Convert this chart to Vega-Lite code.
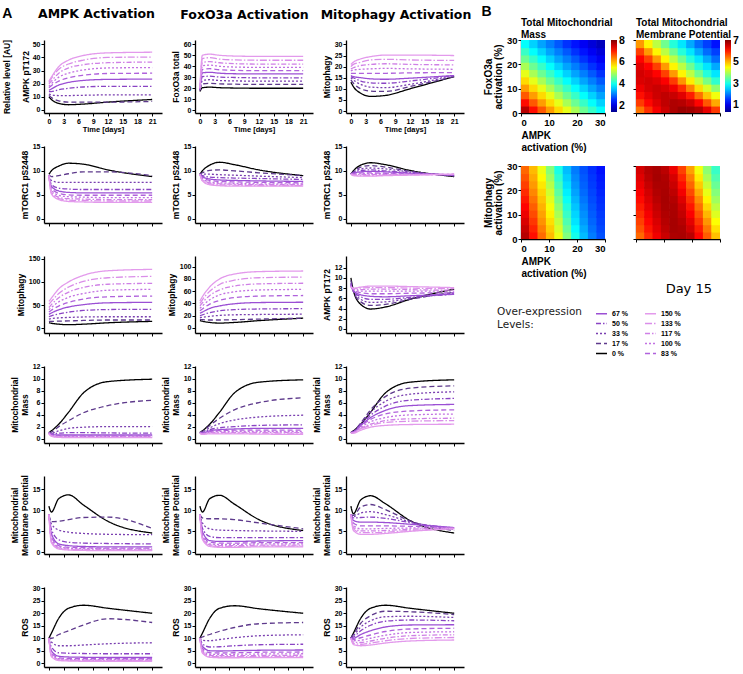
{
"$schema":"https://vega.github.io/schema/vega-lite/v6.json",
"background":"white",
"padding":{"left":2,"top":4,"right":0,"bottom":0},
"title":{"text":"A","anchor":"start","frame":"bounds","font":"Liberation Sans","fontSize":14,"fontWeight":"bold","offset":-16,"color":"#000"},
"config":{"view":{"stroke":null},"font":"Liberation Sans",
"axis":{"domainColor":"#000","domainWidth":1.3,"tickColor":"#000","tickWidth":1,"tickSize":3,"labelFont":"Liberation Sans","labelFontWeight":"bold","labelFontSize":7,"labelColor":"#000","labelPadding":1,"titleFont":"Liberation Sans","titleFontWeight":"bold","titleFontSize":8.5,"titleColor":"#000","titlePadding":3,"grid":false,"titleLineHeight":10},
"title":{"color":"#000"}},
"datasets":{
"a1":[{"lv":0,"t":0,"v":10},{"lv":0,"t":0.5,"v":8},{"lv":0,"t":2,"v":5},{"lv":0,"t":4,"v":4},{"lv":0,"t":7,"v":4.5},{"lv":0,"t":12,"v":6},{"lv":0,"t":21,"v":8},
{"lv":17,"t":0,"v":11},{"lv":17,"t":0.5,"v":9.5},{"lv":17,"t":2,"v":7},{"lv":17,"t":4,"v":6},{"lv":17,"t":7,"v":6},{"lv":17,"t":12,"v":6},{"lv":17,"t":21,"v":6.5},
{"lv":33,"t":0,"v":12},{"lv":33,"t":0.5,"v":11.5},{"lv":33,"t":2,"v":11},{"lv":33,"t":4,"v":11},{"lv":33,"t":7,"v":11.2},{"lv":33,"t":12,"v":11.5},{"lv":33,"t":21,"v":11.5},
{"lv":50,"t":0,"v":14},{"lv":50,"t":0.5,"v":14},{"lv":50,"t":2,"v":15.5},{"lv":50,"t":4,"v":16.5},{"lv":50,"t":7,"v":17.5},{"lv":50,"t":12,"v":18},{"lv":50,"t":21,"v":18},
{"lv":67,"t":0,"v":15},{"lv":67,"t":0.5,"v":16},{"lv":67,"t":2,"v":19},{"lv":67,"t":4,"v":21},{"lv":67,"t":7,"v":22.5},{"lv":67,"t":12,"v":23.3},{"lv":67,"t":21,"v":23.5},
{"lv":83,"t":0,"v":17},{"lv":83,"t":0.5,"v":18.5},{"lv":83,"t":2,"v":22},{"lv":83,"t":4,"v":24.5},{"lv":83,"t":7,"v":26.5},{"lv":83,"t":12,"v":27.8},{"lv":83,"t":21,"v":28},
{"lv":100,"t":0,"v":18},{"lv":100,"t":0.5,"v":20},{"lv":100,"t":2,"v":25},{"lv":100,"t":4,"v":28},{"lv":100,"t":7,"v":30.5},{"lv":100,"t":12,"v":32},{"lv":100,"t":21,"v":32.3},
{"lv":117,"t":0,"v":20},{"lv":117,"t":0.5,"v":22},{"lv":117,"t":2,"v":28},{"lv":117,"t":4,"v":32},{"lv":117,"t":7,"v":34.5},{"lv":117,"t":12,"v":36},{"lv":117,"t":21,"v":36.5},
{"lv":133,"t":0,"v":21},{"lv":133,"t":0.5,"v":24},{"lv":133,"t":2,"v":31},{"lv":133,"t":4,"v":35},{"lv":133,"t":7,"v":38},{"lv":133,"t":12,"v":40},{"lv":133,"t":21,"v":40.3},
{"lv":150,"t":0,"v":22},{"lv":150,"t":0.5,"v":25},{"lv":150,"t":2,"v":33},{"lv":150,"t":4,"v":38},{"lv":150,"t":7,"v":41.5},{"lv":150,"t":12,"v":43.5},{"lv":150,"t":21,"v":44}],
"b1":[{"lv":0,"t":0,"v":17},{"lv":0,"t":0.5,"v":20.5},{"lv":0,"t":2,"v":21},{"lv":0,"t":4,"v":20.5},{"lv":0,"t":7,"v":20.2},{"lv":0,"t":12,"v":20},{"lv":0,"t":21,"v":20},
{"lv":17,"t":0,"v":18},{"lv":17,"t":0.5,"v":24},{"lv":17,"t":2,"v":24.5},{"lv":17,"t":4,"v":24},{"lv":17,"t":7,"v":23.7},{"lv":17,"t":12,"v":23.5},{"lv":17,"t":21,"v":23.5},
{"lv":33,"t":0,"v":18},{"lv":33,"t":0.5,"v":27},{"lv":33,"t":2,"v":27.8},{"lv":33,"t":4,"v":27},{"lv":33,"t":7,"v":26.7},{"lv":33,"t":12,"v":26.5},{"lv":33,"t":21,"v":26.5},
{"lv":50,"t":0,"v":18.5},{"lv":50,"t":0.5,"v":30.5},{"lv":50,"t":2,"v":31},{"lv":50,"t":4,"v":30.2},{"lv":50,"t":7,"v":29.8},{"lv":50,"t":12,"v":29.5},{"lv":50,"t":21,"v":29.5},
{"lv":67,"t":0,"v":19},{"lv":67,"t":0.5,"v":34},{"lv":67,"t":2,"v":34.5},{"lv":67,"t":4,"v":33.7},{"lv":67,"t":7,"v":33.2},{"lv":67,"t":12,"v":33},{"lv":67,"t":21,"v":33},
{"lv":83,"t":0,"v":19},{"lv":83,"t":0.5,"v":37},{"lv":83,"t":2,"v":37.8},{"lv":83,"t":4,"v":36.8},{"lv":83,"t":7,"v":36.3},{"lv":83,"t":12,"v":36},{"lv":83,"t":21,"v":36},
{"lv":100,"t":0,"v":19.5},{"lv":100,"t":0.5,"v":40.5},{"lv":100,"t":2,"v":41},{"lv":100,"t":4,"v":40},{"lv":100,"t":7,"v":39.3},{"lv":100,"t":12,"v":39},{"lv":100,"t":21,"v":39},
{"lv":117,"t":0,"v":20},{"lv":117,"t":0.5,"v":43.5},{"lv":117,"t":2,"v":44.2},{"lv":117,"t":4,"v":43.2},{"lv":117,"t":7,"v":42.4},{"lv":117,"t":12,"v":42},{"lv":117,"t":21,"v":42},
{"lv":133,"t":0,"v":20},{"lv":133,"t":0.5,"v":47},{"lv":133,"t":2,"v":47.8},{"lv":133,"t":4,"v":46.5},{"lv":133,"t":7,"v":45.8},{"lv":133,"t":12,"v":45.5},{"lv":133,"t":21,"v":45.5},
{"lv":150,"t":0,"v":20.5},{"lv":150,"t":0.5,"v":50},{"lv":150,"t":2,"v":51},{"lv":150,"t":4,"v":50},{"lv":150,"t":7,"v":49.3},{"lv":150,"t":12,"v":49},{"lv":150,"t":21,"v":49}],
"c1":[{"lv":0,"t":0,"v":13},{"lv":0,"t":0.5,"v":11},{"lv":0,"t":2,"v":8},{"lv":0,"t":4,"v":6.6},{"lv":0,"t":7,"v":7},{"lv":0,"t":12,"v":10},{"lv":0,"t":21,"v":15.5},
{"lv":17,"t":0,"v":14},{"lv":17,"t":0.5,"v":12.5},{"lv":17,"t":2,"v":10},{"lv":17,"t":4,"v":9},{"lv":17,"t":7,"v":8.8},{"lv":17,"t":12,"v":11},{"lv":17,"t":21,"v":15.5},
{"lv":33,"t":0,"v":15},{"lv":33,"t":0.5,"v":14},{"lv":33,"t":2,"v":12},{"lv":33,"t":4,"v":10.8},{"lv":33,"t":7,"v":10.5},{"lv":33,"t":12,"v":12},{"lv":33,"t":21,"v":15.8},
{"lv":50,"t":0,"v":15.5},{"lv":50,"t":0.5,"v":15},{"lv":50,"t":2,"v":13.5},{"lv":50,"t":4,"v":12.7},{"lv":50,"t":7,"v":12.5},{"lv":50,"t":12,"v":13.5},{"lv":50,"t":21,"v":16},
{"lv":67,"t":0,"v":16},{"lv":67,"t":0.5,"v":15.5},{"lv":67,"t":2,"v":15},{"lv":67,"t":4,"v":14.5},{"lv":67,"t":7,"v":14.3},{"lv":67,"t":12,"v":14.8},{"lv":67,"t":21,"v":16},
{"lv":83,"t":0,"v":17},{"lv":83,"t":0.5,"v":17},{"lv":83,"t":2,"v":17},{"lv":83,"t":4,"v":17},{"lv":83,"t":7,"v":17},{"lv":83,"t":12,"v":17.2},{"lv":83,"t":21,"v":17.3},
{"lv":100,"t":0,"v":18},{"lv":100,"t":0.5,"v":18.5},{"lv":100,"t":2,"v":18.8},{"lv":100,"t":4,"v":19},{"lv":100,"t":7,"v":19.2},{"lv":100,"t":12,"v":19},{"lv":100,"t":21,"v":18.8},
{"lv":117,"t":0,"v":19},{"lv":117,"t":0.5,"v":19.5},{"lv":117,"t":2,"v":20.5},{"lv":117,"t":4,"v":21},{"lv":117,"t":7,"v":21.3},{"lv":117,"t":12,"v":21},{"lv":117,"t":21,"v":20.8},
{"lv":133,"t":0,"v":20},{"lv":133,"t":0.5,"v":21},{"lv":133,"t":2,"v":22},{"lv":133,"t":4,"v":23},{"lv":133,"t":7,"v":23.3},{"lv":133,"t":12,"v":23},{"lv":133,"t":21,"v":22.8},
{"lv":150,"t":0,"v":21},{"lv":150,"t":0.5,"v":22},{"lv":150,"t":2,"v":23.5},{"lv":150,"t":4,"v":24.5},{"lv":150,"t":7,"v":25.2},{"lv":150,"t":12,"v":25.2},{"lv":150,"t":21,"v":25}],
"a2":[{"lv":0,"t":0,"v":9.3},{"lv":0,"t":0.5,"v":10},{"lv":0,"t":2,"v":11},{"lv":0,"t":4,"v":11.6},{"lv":0,"t":7,"v":11.4},{"lv":0,"t":12,"v":10.2},{"lv":0,"t":21,"v":8.8},
{"lv":17,"t":0,"v":9.2},{"lv":17,"t":0.5,"v":8.8},{"lv":17,"t":2,"v":9},{"lv":17,"t":4,"v":9.4},{"lv":17,"t":7,"v":9.8},{"lv":17,"t":12,"v":9.8},{"lv":17,"t":21,"v":9},
{"lv":33,"t":0,"v":9},{"lv":33,"t":0.5,"v":8},{"lv":33,"t":2,"v":7.6},{"lv":33,"t":4,"v":7.6},{"lv":33,"t":7,"v":7.6},{"lv":33,"t":12,"v":7.6},{"lv":33,"t":21,"v":7.6},
{"lv":50,"t":0,"v":9},{"lv":50,"t":0.5,"v":7.2},{"lv":50,"t":2,"v":6.4},{"lv":50,"t":4,"v":6.2},{"lv":50,"t":7,"v":6.1},{"lv":50,"t":12,"v":6.1},{"lv":50,"t":21,"v":6.1},
{"lv":67,"t":0,"v":9},{"lv":67,"t":0.5,"v":6.8},{"lv":67,"t":2,"v":5.8},{"lv":67,"t":4,"v":5.5},{"lv":67,"t":7,"v":5.4},{"lv":67,"t":12,"v":5.4},{"lv":67,"t":21,"v":5.4},
{"lv":83,"t":0,"v":9},{"lv":83,"t":0.5,"v":6.4},{"lv":83,"t":2,"v":5.3},{"lv":83,"t":4,"v":5},{"lv":83,"t":7,"v":4.9},{"lv":83,"t":12,"v":4.9},{"lv":83,"t":21,"v":4.9},
{"lv":100,"t":0,"v":9},{"lv":100,"t":0.5,"v":6},{"lv":100,"t":2,"v":4.9},{"lv":100,"t":4,"v":4.6},{"lv":100,"t":7,"v":4.5},{"lv":100,"t":12,"v":4.4},{"lv":100,"t":21,"v":4.4},
{"lv":117,"t":0,"v":9},{"lv":117,"t":0.5,"v":5.7},{"lv":117,"t":2,"v":4.5},{"lv":117,"t":4,"v":4.2},{"lv":117,"t":7,"v":4.1},{"lv":117,"t":12,"v":4},{"lv":117,"t":21,"v":4},
{"lv":133,"t":0,"v":9},{"lv":133,"t":0.5,"v":5.4},{"lv":133,"t":2,"v":4.2},{"lv":133,"t":4,"v":3.9},{"lv":133,"t":7,"v":3.8},{"lv":133,"t":12,"v":3.7},{"lv":133,"t":21,"v":3.7},
{"lv":150,"t":0,"v":9},{"lv":150,"t":0.5,"v":5.2},{"lv":150,"t":2,"v":4},{"lv":150,"t":4,"v":3.6},{"lv":150,"t":7,"v":3.5},{"lv":150,"t":12,"v":3.4},{"lv":150,"t":21,"v":3.4}],
"b2":[{"lv":0,"t":0,"v":9.3},{"lv":0,"t":0.5,"v":10},{"lv":0,"t":2,"v":11.2},{"lv":0,"t":4,"v":11.8},{"lv":0,"t":7,"v":11.3},{"lv":0,"t":12,"v":10.2},{"lv":0,"t":21,"v":9},
{"lv":17,"t":0,"v":9.3},{"lv":17,"t":0.5,"v":9.6},{"lv":17,"t":2,"v":10.1},{"lv":17,"t":4,"v":10.2},{"lv":17,"t":7,"v":10},{"lv":17,"t":12,"v":9.6},{"lv":17,"t":21,"v":9},
{"lv":33,"t":0,"v":9.3},{"lv":33,"t":0.5,"v":9.3},{"lv":33,"t":2,"v":9.3},{"lv":33,"t":4,"v":9.2},{"lv":33,"t":7,"v":9.1},{"lv":33,"t":12,"v":8.9},{"lv":33,"t":21,"v":8.6},
{"lv":50,"t":0,"v":9.3},{"lv":50,"t":0.5,"v":9},{"lv":50,"t":2,"v":8.7},{"lv":50,"t":4,"v":8.6},{"lv":50,"t":7,"v":8.5},{"lv":50,"t":12,"v":8.4},{"lv":50,"t":21,"v":8.2},
{"lv":67,"t":0,"v":9.3},{"lv":67,"t":0.5,"v":8.8},{"lv":67,"t":2,"v":8.3},{"lv":67,"t":4,"v":8.1},{"lv":67,"t":7,"v":8},{"lv":67,"t":12,"v":7.9},{"lv":67,"t":21,"v":7.8},
{"lv":83,"t":0,"v":9.3},{"lv":83,"t":0.5,"v":8.6},{"lv":83,"t":2,"v":8},{"lv":83,"t":4,"v":7.8},{"lv":83,"t":7,"v":7.7},{"lv":83,"t":12,"v":7.6},{"lv":83,"t":21,"v":7.5},
{"lv":100,"t":0,"v":9.3},{"lv":100,"t":0.5,"v":8.4},{"lv":100,"t":2,"v":7.7},{"lv":100,"t":4,"v":7.5},{"lv":100,"t":7,"v":7.4},{"lv":100,"t":12,"v":7.3},{"lv":100,"t":21,"v":7.3},
{"lv":117,"t":0,"v":9.3},{"lv":117,"t":0.5,"v":8.2},{"lv":117,"t":2,"v":7.5},{"lv":117,"t":4,"v":7.3},{"lv":117,"t":7,"v":7.2},{"lv":117,"t":12,"v":7.1},{"lv":117,"t":21,"v":7.1},
{"lv":133,"t":0,"v":9.3},{"lv":133,"t":0.5,"v":8},{"lv":133,"t":2,"v":7.3},{"lv":133,"t":4,"v":7.1},{"lv":133,"t":7,"v":7},{"lv":133,"t":12,"v":6.9},{"lv":133,"t":21,"v":6.9},
{"lv":150,"t":0,"v":9.3},{"lv":150,"t":0.5,"v":7.9},{"lv":150,"t":2,"v":7.1},{"lv":150,"t":4,"v":6.9},{"lv":150,"t":7,"v":6.8},{"lv":150,"t":12,"v":6.8},{"lv":150,"t":21,"v":6.8}],
"c2":[{"lv":0,"t":0,"v":9.3},{"lv":0,"t":0.5,"v":10},{"lv":0,"t":2,"v":11.2},{"lv":0,"t":4,"v":11.7},{"lv":0,"t":7,"v":11.3},{"lv":0,"t":12,"v":10.1},{"lv":0,"t":21,"v":8.8},
{"lv":17,"t":0,"v":9.3},{"lv":17,"t":0.5,"v":9.8},{"lv":17,"t":2,"v":10.8},{"lv":17,"t":4,"v":11.1},{"lv":17,"t":7,"v":10.8},{"lv":17,"t":12,"v":9.9},{"lv":17,"t":21,"v":8.9},
{"lv":33,"t":0,"v":9.3},{"lv":33,"t":0.5,"v":9.7},{"lv":33,"t":2,"v":10.4},{"lv":33,"t":4,"v":10.6},{"lv":33,"t":7,"v":10.4},{"lv":33,"t":12,"v":9.8},{"lv":33,"t":21,"v":9},
{"lv":50,"t":0,"v":9.3},{"lv":50,"t":0.5,"v":9.6},{"lv":50,"t":2,"v":10.1},{"lv":50,"t":4,"v":10.2},{"lv":50,"t":7,"v":10},{"lv":50,"t":12,"v":9.6},{"lv":50,"t":21,"v":9.1},
{"lv":67,"t":0,"v":9.3},{"lv":67,"t":0.5,"v":9.5},{"lv":67,"t":2,"v":9.8},{"lv":67,"t":4,"v":9.9},{"lv":67,"t":7,"v":9.8},{"lv":67,"t":12,"v":9.5},{"lv":67,"t":21,"v":9.1},
{"lv":83,"t":0,"v":9.3},{"lv":83,"t":0.5,"v":9.4},{"lv":83,"t":2,"v":9.6},{"lv":83,"t":4,"v":9.6},{"lv":83,"t":7,"v":9.5},{"lv":83,"t":12,"v":9.4},{"lv":83,"t":21,"v":9.2},
{"lv":100,"t":0,"v":9.3},{"lv":100,"t":0.5,"v":9.3},{"lv":100,"t":2,"v":9.4},{"lv":100,"t":4,"v":9.4},{"lv":100,"t":7,"v":9.4},{"lv":100,"t":12,"v":9.3},{"lv":100,"t":21,"v":9.2},
{"lv":117,"t":0,"v":9.3},{"lv":117,"t":0.5,"v":9.2},{"lv":117,"t":2,"v":9.2},{"lv":117,"t":4,"v":9.2},{"lv":117,"t":7,"v":9.2},{"lv":117,"t":12,"v":9.2},{"lv":117,"t":21,"v":9.3},
{"lv":133,"t":0,"v":9.3},{"lv":133,"t":0.5,"v":9.1},{"lv":133,"t":2,"v":9},{"lv":133,"t":4,"v":9},{"lv":133,"t":7,"v":9.1},{"lv":133,"t":12,"v":9.2},{"lv":133,"t":21,"v":9.3},
{"lv":150,"t":0,"v":9.3},{"lv":150,"t":0.5,"v":9},{"lv":150,"t":2,"v":8.9},{"lv":150,"t":4,"v":8.9},{"lv":150,"t":7,"v":9},{"lv":150,"t":12,"v":9.1},{"lv":150,"t":21,"v":9.3}],
"a3":[{"lv":0,"t":0,"v":12},{"lv":0,"t":0.5,"v":11},{"lv":0,"t":2,"v":9},{"lv":0,"t":4,"v":8},{"lv":0,"t":7,"v":9},{"lv":0,"t":12,"v":12},{"lv":0,"t":21,"v":15},
{"lv":17,"t":0,"v":15},{"lv":17,"t":0.5,"v":15},{"lv":17,"t":2,"v":15.5},{"lv":17,"t":4,"v":16},{"lv":17,"t":7,"v":17},{"lv":17,"t":12,"v":18},{"lv":17,"t":21,"v":18},
{"lv":33,"t":0,"v":20},{"lv":33,"t":0.5,"v":21},{"lv":33,"t":2,"v":22.5},{"lv":33,"t":4,"v":23.5},{"lv":33,"t":7,"v":24.5},{"lv":33,"t":12,"v":25},{"lv":33,"t":21,"v":25},
{"lv":50,"t":0,"v":25},{"lv":50,"t":0.5,"v":27},{"lv":50,"t":2,"v":31},{"lv":50,"t":4,"v":35},{"lv":50,"t":7,"v":38.5},{"lv":50,"t":12,"v":40.5},{"lv":50,"t":21,"v":41},
{"lv":67,"t":0,"v":30},{"lv":67,"t":0.5,"v":33},{"lv":67,"t":2,"v":40},{"lv":67,"t":4,"v":46},{"lv":67,"t":7,"v":51},{"lv":67,"t":12,"v":55},{"lv":67,"t":21,"v":56},
{"lv":83,"t":0,"v":35},{"lv":83,"t":0.5,"v":39},{"lv":83,"t":2,"v":48},{"lv":83,"t":4,"v":56},{"lv":83,"t":7,"v":63},{"lv":83,"t":12,"v":68},{"lv":83,"t":21,"v":69.5},
{"lv":100,"t":0,"v":40},{"lv":100,"t":0.5,"v":45},{"lv":100,"t":2,"v":57},{"lv":100,"t":4,"v":67},{"lv":100,"t":7,"v":75},{"lv":100,"t":12,"v":82},{"lv":100,"t":21,"v":84},
{"lv":117,"t":0,"v":45},{"lv":117,"t":0.5,"v":51},{"lv":117,"t":2,"v":66},{"lv":117,"t":4,"v":78},{"lv":117,"t":7,"v":88},{"lv":117,"t":12,"v":95},{"lv":117,"t":21,"v":97},
{"lv":133,"t":0,"v":52},{"lv":133,"t":0.5,"v":58},{"lv":133,"t":2,"v":75},{"lv":133,"t":4,"v":89},{"lv":133,"t":7,"v":101},{"lv":133,"t":12,"v":109},{"lv":133,"t":21,"v":112},
{"lv":150,"t":0,"v":58},{"lv":150,"t":0.5,"v":65},{"lv":150,"t":2,"v":85},{"lv":150,"t":4,"v":100},{"lv":150,"t":7,"v":114},{"lv":150,"t":12,"v":124},{"lv":150,"t":21,"v":127}],
"b3":[{"lv":0,"t":0,"v":12},{"lv":0,"t":0.5,"v":11},{"lv":0,"t":2,"v":9},{"lv":0,"t":4,"v":8},{"lv":0,"t":7,"v":9},{"lv":0,"t":12,"v":12},{"lv":0,"t":21,"v":16},
{"lv":17,"t":0,"v":14},{"lv":17,"t":0.5,"v":13.5},{"lv":17,"t":2,"v":13},{"lv":17,"t":4,"v":13},{"lv":17,"t":7,"v":13.5},{"lv":17,"t":12,"v":14.5},{"lv":17,"t":21,"v":16},
{"lv":33,"t":0,"v":17},{"lv":33,"t":0.5,"v":17.5},{"lv":33,"t":2,"v":19},{"lv":33,"t":4,"v":20.5},{"lv":33,"t":7,"v":21.5},{"lv":33,"t":12,"v":22},{"lv":33,"t":21,"v":22.5},
{"lv":50,"t":0,"v":20},{"lv":50,"t":0.5,"v":21.5},{"lv":50,"t":2,"v":25},{"lv":50,"t":4,"v":28},{"lv":50,"t":7,"v":30},{"lv":50,"t":12,"v":31},{"lv":50,"t":21,"v":31.5},
{"lv":67,"t":0,"v":24},{"lv":67,"t":0.5,"v":26},{"lv":67,"t":2,"v":32},{"lv":67,"t":4,"v":36},{"lv":67,"t":7,"v":39.5},{"lv":67,"t":12,"v":41.5},{"lv":67,"t":21,"v":42},
{"lv":83,"t":0,"v":28},{"lv":83,"t":0.5,"v":31},{"lv":83,"t":2,"v":39},{"lv":83,"t":4,"v":45},{"lv":83,"t":7,"v":49.5},{"lv":83,"t":12,"v":52},{"lv":83,"t":21,"v":53},
{"lv":100,"t":0,"v":32},{"lv":100,"t":0.5,"v":36},{"lv":100,"t":2,"v":46},{"lv":100,"t":4,"v":54},{"lv":100,"t":7,"v":59},{"lv":100,"t":12,"v":62},{"lv":100,"t":21,"v":63},
{"lv":117,"t":0,"v":36},{"lv":117,"t":0.5,"v":41},{"lv":117,"t":2,"v":53},{"lv":117,"t":4,"v":62},{"lv":117,"t":7,"v":68.5},{"lv":117,"t":12,"v":72},{"lv":117,"t":21,"v":73},
{"lv":133,"t":0,"v":40},{"lv":133,"t":0.5,"v":46},{"lv":133,"t":2,"v":60},{"lv":133,"t":4,"v":71},{"lv":133,"t":7,"v":78},{"lv":133,"t":12,"v":82},{"lv":133,"t":21,"v":83},
{"lv":150,"t":0,"v":44},{"lv":150,"t":0.5,"v":51},{"lv":150,"t":2,"v":67},{"lv":150,"t":4,"v":80},{"lv":150,"t":7,"v":88},{"lv":150,"t":12,"v":92},{"lv":150,"t":21,"v":93}],
"c3":[{"lv":0,"t":0,"v":10},{"lv":0,"t":0.5,"v":7.5},{"lv":0,"t":2,"v":4.8},{"lv":0,"t":4,"v":3.9},{"lv":0,"t":7,"v":4.3},{"lv":0,"t":12,"v":5.8},{"lv":0,"t":21,"v":7.8},
{"lv":17,"t":0,"v":9.5},{"lv":17,"t":0.5,"v":7.4},{"lv":17,"t":2,"v":5.3},{"lv":17,"t":4,"v":4.6},{"lv":17,"t":7,"v":4.8},{"lv":17,"t":12,"v":5.8},{"lv":17,"t":21,"v":7.2},
{"lv":33,"t":0,"v":9},{"lv":33,"t":0.5,"v":7.4},{"lv":33,"t":2,"v":5.8},{"lv":33,"t":4,"v":5.2},{"lv":33,"t":7,"v":5.3},{"lv":33,"t":12,"v":6},{"lv":33,"t":21,"v":7},
{"lv":50,"t":0,"v":8.8},{"lv":50,"t":0.5,"v":7.4},{"lv":50,"t":2,"v":6.3},{"lv":50,"t":4,"v":5.8},{"lv":50,"t":7,"v":5.8},{"lv":50,"t":12,"v":6.2},{"lv":50,"t":21,"v":6.8},
{"lv":67,"t":0,"v":8.6},{"lv":67,"t":0.5,"v":7.5},{"lv":67,"t":2,"v":6.7},{"lv":67,"t":4,"v":6.4},{"lv":67,"t":7,"v":6.3},{"lv":67,"t":12,"v":6.5},{"lv":67,"t":21,"v":6.8},
{"lv":83,"t":0,"v":8.5},{"lv":83,"t":0.5,"v":7.6},{"lv":83,"t":2,"v":7.1},{"lv":83,"t":4,"v":6.9},{"lv":83,"t":7,"v":6.9},{"lv":83,"t":12,"v":7},{"lv":83,"t":21,"v":7.1},
{"lv":100,"t":0,"v":8.4},{"lv":100,"t":0.5,"v":7.7},{"lv":100,"t":2,"v":7.4},{"lv":100,"t":4,"v":7.4},{"lv":100,"t":7,"v":7.4},{"lv":100,"t":12,"v":7.4},{"lv":100,"t":21,"v":7.4},
{"lv":117,"t":0,"v":8.3},{"lv":117,"t":0.5,"v":7.8},{"lv":117,"t":2,"v":7.7},{"lv":117,"t":4,"v":7.8},{"lv":117,"t":7,"v":7.8},{"lv":117,"t":12,"v":7.7},{"lv":117,"t":21,"v":7.6},
{"lv":133,"t":0,"v":8.2},{"lv":133,"t":0.5,"v":7.9},{"lv":133,"t":2,"v":8},{"lv":133,"t":4,"v":8.1},{"lv":133,"t":7,"v":8.1},{"lv":133,"t":12,"v":8},{"lv":133,"t":21,"v":7.9},
{"lv":150,"t":0,"v":8.2},{"lv":150,"t":0.5,"v":8},{"lv":150,"t":2,"v":8.2},{"lv":150,"t":4,"v":8.4},{"lv":150,"t":7,"v":8.4},{"lv":150,"t":12,"v":8.3},{"lv":150,"t":21,"v":8.1}],
"a4":[{"lv":0,"t":0,"v":1},{"lv":0,"t":0.5,"v":1.3},{"lv":0,"t":2,"v":2.4},{"lv":0,"t":4,"v":4.4},{"lv":0,"t":7,"v":7.6},{"lv":0,"t":12,"v":9.5},{"lv":0,"t":21,"v":9.9},
{"lv":17,"t":0,"v":1},{"lv":17,"t":0.5,"v":1.1},{"lv":17,"t":2,"v":2},{"lv":17,"t":4,"v":3},{"lv":17,"t":7,"v":4.3},{"lv":17,"t":12,"v":5.5},{"lv":17,"t":21,"v":6.4},
{"lv":33,"t":0,"v":1},{"lv":33,"t":0.5,"v":0.9},{"lv":33,"t":2,"v":1.3},{"lv":33,"t":4,"v":1.7},{"lv":33,"t":7,"v":1.9},{"lv":33,"t":12,"v":2},{"lv":33,"t":21,"v":2},
{"lv":50,"t":0,"v":1},{"lv":50,"t":0.5,"v":0.8},{"lv":50,"t":2,"v":0.9},{"lv":50,"t":4,"v":1},{"lv":50,"t":7,"v":1},{"lv":50,"t":12,"v":0.95},{"lv":50,"t":21,"v":0.9},
{"lv":67,"t":0,"v":1},{"lv":67,"t":0.5,"v":0.7},{"lv":67,"t":2,"v":0.6},{"lv":67,"t":4,"v":0.6},{"lv":67,"t":7,"v":0.6},{"lv":67,"t":12,"v":0.6},{"lv":67,"t":21,"v":0.6},
{"lv":83,"t":0,"v":1},{"lv":83,"t":0.5,"v":0.6},{"lv":83,"t":2,"v":0.5},{"lv":83,"t":4,"v":0.45},{"lv":83,"t":7,"v":0.45},{"lv":83,"t":12,"v":0.45},{"lv":83,"t":21,"v":0.45},
{"lv":100,"t":0,"v":0.9},{"lv":100,"t":0.5,"v":0.55},{"lv":100,"t":2,"v":0.4},{"lv":100,"t":4,"v":0.35},{"lv":100,"t":7,"v":0.35},{"lv":100,"t":12,"v":0.35},{"lv":100,"t":21,"v":0.35},
{"lv":117,"t":0,"v":0.9},{"lv":117,"t":0.5,"v":0.5},{"lv":117,"t":2,"v":0.3},{"lv":117,"t":4,"v":0.28},{"lv":117,"t":7,"v":0.28},{"lv":117,"t":12,"v":0.28},{"lv":117,"t":21,"v":0.28},
{"lv":133,"t":0,"v":0.8},{"lv":133,"t":0.5,"v":0.45},{"lv":133,"t":2,"v":0.25},{"lv":133,"t":4,"v":0.22},{"lv":133,"t":7,"v":0.22},{"lv":133,"t":12,"v":0.22},{"lv":133,"t":21,"v":0.22},
{"lv":150,"t":0,"v":0.8},{"lv":150,"t":0.5,"v":0.4},{"lv":150,"t":2,"v":0.2},{"lv":150,"t":4,"v":0.18},{"lv":150,"t":7,"v":0.18},{"lv":150,"t":12,"v":0.18},{"lv":150,"t":21,"v":0.18}],
"b4":[{"lv":0,"t":0,"v":1},{"lv":0,"t":0.5,"v":1.3},{"lv":0,"t":2,"v":2.4},{"lv":0,"t":4,"v":4.4},{"lv":0,"t":7,"v":7.6},{"lv":0,"t":12,"v":9.4},{"lv":0,"t":21,"v":9.8},
{"lv":17,"t":0,"v":1},{"lv":17,"t":0.5,"v":1.2},{"lv":17,"t":2,"v":2.2},{"lv":17,"t":4,"v":3.4},{"lv":17,"t":7,"v":4.8},{"lv":17,"t":12,"v":6},{"lv":17,"t":21,"v":6.8},
{"lv":33,"t":0,"v":1},{"lv":33,"t":0.5,"v":1.1},{"lv":33,"t":2,"v":1.8},{"lv":33,"t":4,"v":2.5},{"lv":33,"t":7,"v":3.1},{"lv":33,"t":12,"v":3.6},{"lv":33,"t":21,"v":3.9},
{"lv":50,"t":0,"v":1},{"lv":50,"t":0.5,"v":1},{"lv":50,"t":2,"v":1.5},{"lv":50,"t":4,"v":1.8},{"lv":50,"t":7,"v":2},{"lv":50,"t":12,"v":2.2},{"lv":50,"t":21,"v":2.3},
{"lv":67,"t":0,"v":1},{"lv":67,"t":0.5,"v":0.95},{"lv":67,"t":2,"v":1.3},{"lv":67,"t":4,"v":1.5},{"lv":67,"t":7,"v":1.6},{"lv":67,"t":12,"v":1.7},{"lv":67,"t":21,"v":1.7},
{"lv":83,"t":0,"v":1},{"lv":83,"t":0.5,"v":0.9},{"lv":83,"t":2,"v":1.2},{"lv":83,"t":4,"v":1.35},{"lv":83,"t":7,"v":1.4},{"lv":83,"t":12,"v":1.4},{"lv":83,"t":21,"v":1.4},
{"lv":100,"t":0,"v":0.9},{"lv":100,"t":0.5,"v":0.85},{"lv":100,"t":2,"v":1.1},{"lv":100,"t":4,"v":1.2},{"lv":100,"t":7,"v":1.2},{"lv":100,"t":12,"v":1.2},{"lv":100,"t":21,"v":1.2},
{"lv":117,"t":0,"v":0.9},{"lv":117,"t":0.5,"v":0.8},{"lv":117,"t":2,"v":1},{"lv":117,"t":4,"v":1.05},{"lv":117,"t":7,"v":1.05},{"lv":117,"t":12,"v":1.05},{"lv":117,"t":21,"v":1},
{"lv":133,"t":0,"v":0.9},{"lv":133,"t":0.5,"v":0.75},{"lv":133,"t":2,"v":0.9},{"lv":133,"t":4,"v":0.9},{"lv":133,"t":7,"v":0.9},{"lv":133,"t":12,"v":0.9},{"lv":133,"t":21,"v":0.9},
{"lv":150,"t":0,"v":0.9},{"lv":150,"t":0.5,"v":0.7},{"lv":150,"t":2,"v":0.8},{"lv":150,"t":4,"v":0.8},{"lv":150,"t":7,"v":0.8},{"lv":150,"t":12,"v":0.75},{"lv":150,"t":21,"v":0.7}],
"c4":[{"lv":0,"t":0,"v":1},{"lv":0,"t":0.5,"v":1.3},{"lv":0,"t":2,"v":2.4},{"lv":0,"t":4,"v":4.4},{"lv":0,"t":7,"v":7.6},{"lv":0,"t":12,"v":9.4},{"lv":0,"t":21,"v":9.8},
{"lv":17,"t":0,"v":1},{"lv":17,"t":0.5,"v":1.2},{"lv":17,"t":2,"v":2.6},{"lv":17,"t":4,"v":4.8},{"lv":17,"t":7,"v":7},{"lv":17,"t":12,"v":8.4},{"lv":17,"t":21,"v":8.8},
{"lv":33,"t":0,"v":1},{"lv":33,"t":0.5,"v":1.15},{"lv":33,"t":2,"v":2.5},{"lv":33,"t":4,"v":4.4},{"lv":33,"t":7,"v":6.2},{"lv":33,"t":12,"v":7.4},{"lv":33,"t":21,"v":7.8},
{"lv":50,"t":0,"v":1},{"lv":50,"t":0.5,"v":1.1},{"lv":50,"t":2,"v":2.3},{"lv":50,"t":4,"v":3.9},{"lv":50,"t":7,"v":5.4},{"lv":50,"t":12,"v":6.4},{"lv":50,"t":21,"v":6.7},
{"lv":67,"t":0,"v":1},{"lv":67,"t":0.5,"v":1.1},{"lv":67,"t":2,"v":2.2},{"lv":67,"t":4,"v":3.5},{"lv":67,"t":7,"v":4.7},{"lv":67,"t":12,"v":5.5},{"lv":67,"t":21,"v":5.7},
{"lv":83,"t":0,"v":1},{"lv":83,"t":0.5,"v":1.05},{"lv":83,"t":2,"v":2.1},{"lv":83,"t":4,"v":3.2},{"lv":83,"t":7,"v":4.1},{"lv":83,"t":12,"v":4.6},{"lv":83,"t":21,"v":4.8},
{"lv":100,"t":0,"v":0.9},{"lv":100,"t":0.5,"v":1},{"lv":100,"t":2,"v":1.9},{"lv":100,"t":4,"v":2.8},{"lv":100,"t":7,"v":3.5},{"lv":100,"t":12,"v":3.95},{"lv":100,"t":21,"v":4.1},
{"lv":117,"t":0,"v":0.9},{"lv":117,"t":0.5,"v":1},{"lv":117,"t":2,"v":1.7},{"lv":117,"t":4,"v":2.4},{"lv":117,"t":7,"v":3},{"lv":117,"t":12,"v":3.3},{"lv":117,"t":21,"v":3.4},
{"lv":133,"t":0,"v":0.9},{"lv":133,"t":0.5,"v":0.95},{"lv":133,"t":2,"v":1.6},{"lv":133,"t":4,"v":2.2},{"lv":133,"t":7,"v":2.7},{"lv":133,"t":12,"v":2.9},{"lv":133,"t":21,"v":3},
{"lv":150,"t":0,"v":0.9},{"lv":150,"t":0.5,"v":0.9},{"lv":150,"t":2,"v":1.4},{"lv":150,"t":4,"v":1.9},{"lv":150,"t":7,"v":2.2},{"lv":150,"t":12,"v":2.35},{"lv":150,"t":21,"v":2.4}],
"a5":[{"lv":0,"t":0,"v":11},{"lv":0,"t":0.5,"v":9.6},{"lv":0,"t":2,"v":12.8},{"lv":0,"t":4,"v":13.7},{"lv":0,"t":7,"v":11.3},{"lv":0,"t":12,"v":7.4},{"lv":0,"t":21,"v":4.6},
{"lv":17,"t":0,"v":9},{"lv":17,"t":0.5,"v":7.3},{"lv":17,"t":2,"v":7.4},{"lv":17,"t":4,"v":7.8},{"lv":17,"t":7,"v":8.3},{"lv":17,"t":12,"v":8.4},{"lv":17,"t":21,"v":5.7},
{"lv":33,"t":0,"v":9},{"lv":33,"t":0.5,"v":6.8},{"lv":33,"t":2,"v":5.3},{"lv":33,"t":4,"v":4.8},{"lv":33,"t":7,"v":4.5},{"lv":33,"t":12,"v":4.3},{"lv":33,"t":21,"v":4.2},
{"lv":50,"t":0,"v":9},{"lv":50,"t":0.5,"v":5.5},{"lv":50,"t":2,"v":3},{"lv":50,"t":4,"v":2.4},{"lv":50,"t":7,"v":2.2},{"lv":50,"t":12,"v":2.1},{"lv":50,"t":21,"v":2},
{"lv":67,"t":0,"v":9},{"lv":67,"t":0.5,"v":4.5},{"lv":67,"t":2,"v":2},{"lv":67,"t":4,"v":1.6},{"lv":67,"t":7,"v":1.4},{"lv":67,"t":12,"v":1.3},{"lv":67,"t":21,"v":1.3},
{"lv":83,"t":0,"v":9},{"lv":83,"t":0.5,"v":3.8},{"lv":83,"t":2,"v":1.6},{"lv":83,"t":4,"v":1.2},{"lv":83,"t":7,"v":1.1},{"lv":83,"t":12,"v":1},{"lv":83,"t":21,"v":1},
{"lv":100,"t":0,"v":9},{"lv":100,"t":0.5,"v":3.3},{"lv":100,"t":2,"v":1.3},{"lv":100,"t":4,"v":1},{"lv":100,"t":7,"v":0.9},{"lv":100,"t":12,"v":0.85},{"lv":100,"t":21,"v":0.8},
{"lv":117,"t":0,"v":9},{"lv":117,"t":0.5,"v":2.9},{"lv":117,"t":2,"v":1.1},{"lv":117,"t":4,"v":0.8},{"lv":117,"t":7,"v":0.7},{"lv":117,"t":12,"v":0.65},{"lv":117,"t":21,"v":0.6},
{"lv":133,"t":0,"v":9},{"lv":133,"t":0.5,"v":2.6},{"lv":133,"t":2,"v":0.9},{"lv":133,"t":4,"v":0.65},{"lv":133,"t":7,"v":0.55},{"lv":133,"t":12,"v":0.5},{"lv":133,"t":21,"v":0.5},
{"lv":150,"t":0,"v":9},{"lv":150,"t":0.5,"v":2.3},{"lv":150,"t":2,"v":0.8},{"lv":150,"t":4,"v":0.55},{"lv":150,"t":7,"v":0.45},{"lv":150,"t":12,"v":0.4},{"lv":150,"t":21,"v":0.4}],
"b5":[{"lv":0,"t":0,"v":11},{"lv":0,"t":0.5,"v":9.6},{"lv":0,"t":2,"v":12.8},{"lv":0,"t":4,"v":13.6},{"lv":0,"t":7,"v":11.5},{"lv":0,"t":12,"v":7.8},{"lv":0,"t":21,"v":5.2},
{"lv":17,"t":0,"v":9},{"lv":17,"t":0.5,"v":8.2},{"lv":17,"t":2,"v":8},{"lv":17,"t":4,"v":8},{"lv":17,"t":7,"v":7.8},{"lv":17,"t":12,"v":7},{"lv":17,"t":21,"v":5.6},
{"lv":33,"t":0,"v":9},{"lv":33,"t":0.5,"v":7},{"lv":33,"t":2,"v":5.6},{"lv":33,"t":4,"v":5.3},{"lv":33,"t":7,"v":5.2},{"lv":33,"t":12,"v":5.1},{"lv":33,"t":21,"v":5},
{"lv":50,"t":0,"v":9},{"lv":50,"t":0.5,"v":5.8},{"lv":50,"t":2,"v":3.8},{"lv":50,"t":4,"v":3.5},{"lv":50,"t":7,"v":3.5},{"lv":50,"t":12,"v":3.5},{"lv":50,"t":21,"v":3.5},
{"lv":67,"t":0,"v":9},{"lv":67,"t":0.5,"v":5},{"lv":67,"t":2,"v":2.8},{"lv":67,"t":4,"v":2.6},{"lv":67,"t":7,"v":2.6},{"lv":67,"t":12,"v":2.7},{"lv":67,"t":21,"v":2.8},
{"lv":83,"t":0,"v":9},{"lv":83,"t":0.5,"v":4.5},{"lv":83,"t":2,"v":2.4},{"lv":83,"t":4,"v":2.2},{"lv":83,"t":7,"v":2.2},{"lv":83,"t":12,"v":2.3},{"lv":83,"t":21,"v":2.3},
{"lv":100,"t":0,"v":9},{"lv":100,"t":0.5,"v":4},{"lv":100,"t":2,"v":2},{"lv":100,"t":4,"v":1.9},{"lv":100,"t":7,"v":1.9},{"lv":100,"t":12,"v":2},{"lv":100,"t":21,"v":2},
{"lv":117,"t":0,"v":9},{"lv":117,"t":0.5,"v":3.7},{"lv":117,"t":2,"v":1.8},{"lv":117,"t":4,"v":1.6},{"lv":117,"t":7,"v":1.6},{"lv":117,"t":12,"v":1.7},{"lv":117,"t":21,"v":1.7},
{"lv":133,"t":0,"v":9},{"lv":133,"t":0.5,"v":3.4},{"lv":133,"t":2,"v":1.6},{"lv":133,"t":4,"v":1.4},{"lv":133,"t":7,"v":1.4},{"lv":133,"t":12,"v":1.5},{"lv":133,"t":21,"v":1.5},
{"lv":150,"t":0,"v":9},{"lv":150,"t":0.5,"v":3.1},{"lv":150,"t":2,"v":1.4},{"lv":150,"t":4,"v":1.2},{"lv":150,"t":7,"v":1.2},{"lv":150,"t":12,"v":1.3},{"lv":150,"t":21,"v":1.3}],
"c5":[{"lv":0,"t":0,"v":11},{"lv":0,"t":0.5,"v":9.2},{"lv":0,"t":2,"v":12.5},{"lv":0,"t":4,"v":13.5},{"lv":0,"t":7,"v":11.6},{"lv":0,"t":12,"v":7.6},{"lv":0,"t":21,"v":4.6},
{"lv":17,"t":0,"v":9},{"lv":17,"t":0.5,"v":8.8},{"lv":17,"t":2,"v":10.8},{"lv":17,"t":4,"v":11.4},{"lv":17,"t":7,"v":10.2},{"lv":17,"t":12,"v":7.5},{"lv":17,"t":21,"v":5.2},
{"lv":33,"t":0,"v":9},{"lv":33,"t":0.5,"v":8.5},{"lv":33,"t":2,"v":9.4},{"lv":33,"t":4,"v":9.7},{"lv":33,"t":7,"v":9},{"lv":33,"t":12,"v":7.3},{"lv":33,"t":21,"v":5.5},
{"lv":50,"t":0,"v":9},{"lv":50,"t":0.5,"v":8.2},{"lv":50,"t":2,"v":8.3},{"lv":50,"t":4,"v":8.4},{"lv":50,"t":7,"v":8.1},{"lv":50,"t":12,"v":7.1},{"lv":50,"t":21,"v":5.7},
{"lv":67,"t":0,"v":9},{"lv":67,"t":0.5,"v":7.6},{"lv":67,"t":2,"v":7.2},{"lv":67,"t":4,"v":7.2},{"lv":67,"t":7,"v":7.1},{"lv":67,"t":12,"v":6.7},{"lv":67,"t":21,"v":5.9},
{"lv":83,"t":0,"v":9},{"lv":83,"t":0.5,"v":7},{"lv":83,"t":2,"v":6.3},{"lv":83,"t":4,"v":6.3},{"lv":83,"t":7,"v":6.3},{"lv":83,"t":12,"v":6.2},{"lv":83,"t":21,"v":5.9},
{"lv":100,"t":0,"v":9},{"lv":100,"t":0.5,"v":6.5},{"lv":100,"t":2,"v":5.6},{"lv":100,"t":4,"v":5.6},{"lv":100,"t":7,"v":5.7},{"lv":100,"t":12,"v":5.8},{"lv":100,"t":21,"v":5.9},
{"lv":117,"t":0,"v":9},{"lv":117,"t":0.5,"v":6},{"lv":117,"t":2,"v":5.1},{"lv":117,"t":4,"v":5.1},{"lv":117,"t":7,"v":5.2},{"lv":117,"t":12,"v":5.5},{"lv":117,"t":21,"v":5.8},
{"lv":133,"t":0,"v":9},{"lv":133,"t":0.5,"v":5.6},{"lv":133,"t":2,"v":4.7},{"lv":133,"t":4,"v":4.7},{"lv":133,"t":7,"v":4.8},{"lv":133,"t":12,"v":5.2},{"lv":133,"t":21,"v":5.7},
{"lv":150,"t":0,"v":9},{"lv":150,"t":0.5,"v":5.2},{"lv":150,"t":2,"v":4.3},{"lv":150,"t":4,"v":4.3},{"lv":150,"t":7,"v":4.5},{"lv":150,"t":12,"v":5},{"lv":150,"t":21,"v":5.6}],
"a6":[{"lv":0,"t":0,"v":10},{"lv":0,"t":0.5,"v":12},{"lv":0,"t":2,"v":18},{"lv":0,"t":4,"v":22},{"lv":0,"t":7,"v":23.2},{"lv":0,"t":12,"v":22},{"lv":0,"t":21,"v":20},
{"lv":17,"t":0,"v":10},{"lv":17,"t":0.5,"v":10},{"lv":17,"t":2,"v":11.5},{"lv":17,"t":4,"v":13},{"lv":17,"t":7,"v":15.3},{"lv":17,"t":12,"v":17.8},{"lv":17,"t":21,"v":16.3},
{"lv":33,"t":0,"v":10},{"lv":33,"t":0.5,"v":8.5},{"lv":33,"t":2,"v":7},{"lv":33,"t":4,"v":7},{"lv":33,"t":7,"v":7.3},{"lv":33,"t":12,"v":7.8},{"lv":33,"t":21,"v":8.2},
{"lv":50,"t":0,"v":10},{"lv":50,"t":0.5,"v":6.5},{"lv":50,"t":2,"v":4.2},{"lv":50,"t":4,"v":4},{"lv":50,"t":7,"v":3.9},{"lv":50,"t":12,"v":3.8},{"lv":50,"t":21,"v":3.8},
{"lv":67,"t":0,"v":10},{"lv":67,"t":0.5,"v":5},{"lv":67,"t":2,"v":2.8},{"lv":67,"t":4,"v":2.5},{"lv":67,"t":7,"v":2.4},{"lv":67,"t":12,"v":2.3},{"lv":67,"t":21,"v":2.3},
{"lv":83,"t":0,"v":10},{"lv":83,"t":0.5,"v":4.3},{"lv":83,"t":2,"v":2.2},{"lv":83,"t":4,"v":1.9},{"lv":83,"t":7,"v":1.8},{"lv":83,"t":12,"v":1.8},{"lv":83,"t":21,"v":1.8},
{"lv":100,"t":0,"v":10},{"lv":100,"t":0.5,"v":3.8},{"lv":100,"t":2,"v":1.8},{"lv":100,"t":4,"v":1.6},{"lv":100,"t":7,"v":1.5},{"lv":100,"t":12,"v":1.5},{"lv":100,"t":21,"v":1.5},
{"lv":117,"t":0,"v":10},{"lv":117,"t":0.5,"v":3.4},{"lv":117,"t":2,"v":1.5},{"lv":117,"t":4,"v":1.3},{"lv":117,"t":7,"v":1.2},{"lv":117,"t":12,"v":1.2},{"lv":117,"t":21,"v":1.2},
{"lv":133,"t":0,"v":10},{"lv":133,"t":0.5,"v":3},{"lv":133,"t":2,"v":1.3},{"lv":133,"t":4,"v":1.1},{"lv":133,"t":7,"v":1},{"lv":133,"t":12,"v":1},{"lv":133,"t":21,"v":1},
{"lv":150,"t":0,"v":10},{"lv":150,"t":0.5,"v":2.7},{"lv":150,"t":2,"v":1.1},{"lv":150,"t":4,"v":0.9},{"lv":150,"t":7,"v":0.8},{"lv":150,"t":12,"v":0.8},{"lv":150,"t":21,"v":0.8}],
"b6":[{"lv":0,"t":0,"v":10},{"lv":0,"t":0.5,"v":12},{"lv":0,"t":2,"v":18},{"lv":0,"t":4,"v":22},{"lv":0,"t":7,"v":23},{"lv":0,"t":12,"v":21.8},{"lv":0,"t":21,"v":20},
{"lv":17,"t":0,"v":10},{"lv":17,"t":0.5,"v":10.5},{"lv":17,"t":2,"v":11.5},{"lv":17,"t":4,"v":12.8},{"lv":17,"t":7,"v":14.3},{"lv":17,"t":12,"v":15.8},{"lv":17,"t":21,"v":16.3},
{"lv":33,"t":0,"v":10},{"lv":33,"t":0.5,"v":9.2},{"lv":33,"t":2,"v":9},{"lv":33,"t":4,"v":9.5},{"lv":33,"t":7,"v":10.2},{"lv":33,"t":12,"v":11},{"lv":33,"t":21,"v":11.4},
{"lv":50,"t":0,"v":10},{"lv":50,"t":0.5,"v":7.8},{"lv":50,"t":2,"v":6.5},{"lv":50,"t":4,"v":6.6},{"lv":50,"t":7,"v":7},{"lv":50,"t":12,"v":7.4},{"lv":50,"t":21,"v":7.6},
{"lv":67,"t":0,"v":10},{"lv":67,"t":0.5,"v":6.8},{"lv":67,"t":2,"v":5},{"lv":67,"t":4,"v":4.9},{"lv":67,"t":7,"v":5},{"lv":67,"t":12,"v":5.2},{"lv":67,"t":21,"v":5.3},
{"lv":83,"t":0,"v":10},{"lv":83,"t":0.5,"v":6},{"lv":83,"t":2,"v":4.2},{"lv":83,"t":4,"v":4.1},{"lv":83,"t":7,"v":4.2},{"lv":83,"t":12,"v":4.4},{"lv":83,"t":21,"v":4.5},
{"lv":100,"t":0,"v":10},{"lv":100,"t":0.5,"v":5.4},{"lv":100,"t":2,"v":3.6},{"lv":100,"t":4,"v":3.5},{"lv":100,"t":7,"v":3.6},{"lv":100,"t":12,"v":3.7},{"lv":100,"t":21,"v":3.8},
{"lv":117,"t":0,"v":10},{"lv":117,"t":0.5,"v":4.9},{"lv":117,"t":2,"v":3.1},{"lv":117,"t":4,"v":3},{"lv":117,"t":7,"v":3},{"lv":117,"t":12,"v":3.1},{"lv":117,"t":21,"v":3.2},
{"lv":133,"t":0,"v":10},{"lv":133,"t":0.5,"v":4.5},{"lv":133,"t":2,"v":2.7},{"lv":133,"t":4,"v":2.6},{"lv":133,"t":7,"v":2.6},{"lv":133,"t":12,"v":2.7},{"lv":133,"t":21,"v":2.7},
{"lv":150,"t":0,"v":10},{"lv":150,"t":0.5,"v":4.1},{"lv":150,"t":2,"v":2.4},{"lv":150,"t":4,"v":2.2},{"lv":150,"t":7,"v":2.2},{"lv":150,"t":12,"v":2.3},{"lv":150,"t":21,"v":2.3}],
"c6":[{"lv":0,"t":0,"v":10},{"lv":0,"t":0.5,"v":12},{"lv":0,"t":2,"v":18},{"lv":0,"t":4,"v":22},{"lv":0,"t":7,"v":23.2},{"lv":0,"t":12,"v":22},{"lv":0,"t":21,"v":20},
{"lv":17,"t":0,"v":10},{"lv":17,"t":0.5,"v":11.5},{"lv":17,"t":2,"v":16},{"lv":17,"t":4,"v":19},{"lv":17,"t":7,"v":20.8},{"lv":17,"t":12,"v":20.6},{"lv":17,"t":21,"v":19.5},
{"lv":33,"t":0,"v":10},{"lv":33,"t":0.5,"v":11},{"lv":33,"t":2,"v":14.5},{"lv":33,"t":4,"v":17},{"lv":33,"t":7,"v":18.6},{"lv":33,"t":12,"v":18.8},{"lv":33,"t":21,"v":18.3},
{"lv":50,"t":0,"v":10},{"lv":50,"t":0.5,"v":10.5},{"lv":50,"t":2,"v":13},{"lv":50,"t":4,"v":15.2},{"lv":50,"t":7,"v":16.8},{"lv":50,"t":12,"v":17.3},{"lv":50,"t":21,"v":17},
{"lv":67,"t":0,"v":10},{"lv":67,"t":0.5,"v":10},{"lv":67,"t":2,"v":11.5},{"lv":67,"t":4,"v":13},{"lv":67,"t":7,"v":14.5},{"lv":67,"t":12,"v":15.3},{"lv":67,"t":21,"v":15.4},
{"lv":83,"t":0,"v":10},{"lv":83,"t":0.5,"v":9.5},{"lv":83,"t":2,"v":10.2},{"lv":83,"t":4,"v":11.3},{"lv":83,"t":7,"v":12.7},{"lv":83,"t":12,"v":13.7},{"lv":83,"t":21,"v":14},
{"lv":100,"t":0,"v":10},{"lv":100,"t":0.5,"v":9},{"lv":100,"t":2,"v":9.2},{"lv":100,"t":4,"v":10},{"lv":100,"t":7,"v":11.2},{"lv":100,"t":12,"v":12.3},{"lv":100,"t":21,"v":12.6},
{"lv":117,"t":0,"v":10},{"lv":117,"t":0.5,"v":8.5},{"lv":117,"t":2,"v":8.3},{"lv":117,"t":4,"v":8.9},{"lv":117,"t":7,"v":10},{"lv":117,"t":12,"v":11},{"lv":117,"t":21,"v":11.4},
{"lv":133,"t":0,"v":10},{"lv":133,"t":0.5,"v":8},{"lv":133,"t":2,"v":7.6},{"lv":133,"t":4,"v":8},{"lv":133,"t":7,"v":9},{"lv":133,"t":12,"v":9.9},{"lv":133,"t":21,"v":10.3},
{"lv":150,"t":0,"v":10},{"lv":150,"t":0.5,"v":7.5},{"lv":150,"t":2,"v":7},{"lv":150,"t":4,"v":7.3},{"lv":150,"t":7,"v":8.1},{"lv":150,"t":12,"v":8.9},{"lv":150,"t":21,"v":9.3}],
"h1":[{"x":1.5,"y":1.5,"v":7.7},{"x":4.5,"y":1.5,"v":7.15},{"x":7.5,"y":1.5,"v":6.65},{"x":10.5,"y":1.5,"v":6.2},{"x":13.5,"y":1.5,"v":5.8},{"x":16.5,"y":1.5,"v":5.4},{"x":19.5,"y":1.5,"v":5},{"x":22.5,"y":1.5,"v":4.6},{"x":25.5,"y":1.5,"v":4.25},{"x":28.5,"y":1.5,"v":3.9},
{"x":1.5,"y":4.5,"v":7.15},{"x":4.5,"y":4.5,"v":6.65},{"x":7.5,"y":4.5,"v":6.2},{"x":10.5,"y":4.5,"v":5.8},{"x":13.5,"y":4.5,"v":5.4},{"x":16.5,"y":4.5,"v":5},{"x":19.5,"y":4.5,"v":4.6},{"x":22.5,"y":4.5,"v":4.25},{"x":25.5,"y":4.5,"v":3.9},{"x":28.5,"y":4.5,"v":3.6},
{"x":1.5,"y":7.5,"v":6.65},{"x":4.5,"y":7.5,"v":6.2},{"x":7.5,"y":7.5,"v":5.8},{"x":10.5,"y":7.5,"v":5.4},{"x":13.5,"y":7.5,"v":5},{"x":16.5,"y":7.5,"v":4.6},{"x":19.5,"y":7.5,"v":4.25},{"x":22.5,"y":7.5,"v":3.9},{"x":25.5,"y":7.5,"v":3.6},{"x":28.5,"y":7.5,"v":3.3},
{"x":1.5,"y":10.5,"v":6.2},{"x":4.5,"y":10.5,"v":5.8},{"x":7.5,"y":10.5,"v":5.4},{"x":10.5,"y":10.5,"v":5},{"x":13.5,"y":10.5,"v":4.6},{"x":16.5,"y":10.5,"v":4.25},{"x":19.5,"y":10.5,"v":3.9},{"x":22.5,"y":10.5,"v":3.6},{"x":25.5,"y":10.5,"v":3.3},{"x":28.5,"y":10.5,"v":3.05},
{"x":1.5,"y":13.5,"v":5.8},{"x":4.5,"y":13.5,"v":5.4},{"x":7.5,"y":13.5,"v":5},{"x":10.5,"y":13.5,"v":4.6},{"x":13.5,"y":13.5,"v":4.25},{"x":16.5,"y":13.5,"v":3.9},{"x":19.5,"y":13.5,"v":3.6},{"x":22.5,"y":13.5,"v":3.3},{"x":25.5,"y":13.5,"v":3.05},{"x":28.5,"y":13.5,"v":2.8},
{"x":1.5,"y":16.5,"v":5.4},{"x":4.5,"y":16.5,"v":5},{"x":7.5,"y":16.5,"v":4.6},{"x":10.5,"y":16.5,"v":4.25},{"x":13.5,"y":16.5,"v":3.9},{"x":16.5,"y":16.5,"v":3.6},{"x":19.5,"y":16.5,"v":3.3},{"x":22.5,"y":16.5,"v":3.05},{"x":25.5,"y":16.5,"v":2.8},{"x":28.5,"y":16.5,"v":2.55},
{"x":1.5,"y":19.5,"v":5},{"x":4.5,"y":19.5,"v":4.6},{"x":7.5,"y":19.5,"v":4.25},{"x":10.5,"y":19.5,"v":3.9},{"x":13.5,"y":19.5,"v":3.6},{"x":16.5,"y":19.5,"v":3.3},{"x":19.5,"y":19.5,"v":3.05},{"x":22.5,"y":19.5,"v":2.8},{"x":25.5,"y":19.5,"v":2.55},{"x":28.5,"y":19.5,"v":2.35},
{"x":1.5,"y":22.5,"v":4.6},{"x":4.5,"y":22.5,"v":4.25},{"x":7.5,"y":22.5,"v":3.9},{"x":10.5,"y":22.5,"v":3.6},{"x":13.5,"y":22.5,"v":3.3},{"x":16.5,"y":22.5,"v":3.05},{"x":19.5,"y":22.5,"v":2.8},{"x":22.5,"y":22.5,"v":2.55},{"x":25.5,"y":22.5,"v":2.35},{"x":28.5,"y":22.5,"v":2.15},
{"x":1.5,"y":25.5,"v":4.25},{"x":4.5,"y":25.5,"v":3.9},{"x":7.5,"y":25.5,"v":3.6},{"x":10.5,"y":25.5,"v":3.3},{"x":13.5,"y":25.5,"v":3.05},{"x":16.5,"y":25.5,"v":2.8},{"x":19.5,"y":25.5,"v":2.55},{"x":22.5,"y":25.5,"v":2.35},{"x":25.5,"y":25.5,"v":2.15},{"x":28.5,"y":25.5,"v":1.95},
{"x":1.5,"y":28.5,"v":3.9},{"x":4.5,"y":28.5,"v":3.6},{"x":7.5,"y":28.5,"v":3.3},{"x":10.5,"y":28.5,"v":3.05},{"x":13.5,"y":28.5,"v":2.8},{"x":16.5,"y":28.5,"v":2.55},{"x":19.5,"y":28.5,"v":2.35},{"x":22.5,"y":28.5,"v":2.15},{"x":25.5,"y":28.5,"v":1.95},{"x":28.5,"y":28.5,"v":1.75}],
"h2":[{"x":1.5,"y":1.5,"v":5.43},{"x":4.5,"y":1.5,"v":5.9},{"x":7.5,"y":1.5,"v":6.27},{"x":10.5,"y":1.5,"v":6.54},{"x":13.5,"y":1.5,"v":6.75},{"x":16.5,"y":1.5,"v":6.87},{"x":19.5,"y":1.5,"v":6.84},{"x":22.5,"y":1.5,"v":6.71},{"x":25.5,"y":1.5,"v":6.37},{"x":28.5,"y":1.5,"v":5.84},
{"x":1.5,"y":4.5,"v":5.83},{"x":4.5,"y":4.5,"v":6.18},{"x":7.5,"y":4.5,"v":6.43},{"x":10.5,"y":4.5,"v":6.63},{"x":13.5,"y":4.5,"v":6.74},{"x":16.5,"y":4.5,"v":6.69},{"x":19.5,"y":4.5,"v":6.54},{"x":22.5,"y":4.5,"v":6.19},{"x":25.5,"y":4.5,"v":5.65},{"x":28.5,"y":4.5,"v":5.1},
{"x":1.5,"y":7.5,"v":6.12},{"x":4.5,"y":7.5,"v":6.36},{"x":7.5,"y":7.5,"v":6.54},{"x":10.5,"y":7.5,"v":6.63},{"x":13.5,"y":7.5,"v":6.57},{"x":16.5,"y":7.5,"v":6.41},{"x":19.5,"y":7.5,"v":6.04},{"x":22.5,"y":7.5,"v":5.48},{"x":25.5,"y":7.5,"v":4.92},{"x":28.5,"y":7.5,"v":4.46},
{"x":1.5,"y":10.5,"v":6.31},{"x":4.5,"y":10.5,"v":6.48},{"x":7.5,"y":10.5,"v":6.56},{"x":10.5,"y":10.5,"v":6.48},{"x":13.5,"y":10.5,"v":6.3},{"x":16.5,"y":10.5,"v":5.92},{"x":19.5,"y":10.5,"v":5.35},{"x":22.5,"y":10.5,"v":4.77},{"x":25.5,"y":10.5,"v":4.29},{"x":28.5,"y":10.5,"v":3.81},
{"x":1.5,"y":13.5,"v":6.45},{"x":4.5,"y":13.5,"v":6.51},{"x":7.5,"y":13.5,"v":6.42},{"x":10.5,"y":13.5,"v":6.23},{"x":13.5,"y":13.5,"v":5.83},{"x":16.5,"y":13.5,"v":5.24},{"x":19.5,"y":13.5,"v":4.65},{"x":22.5,"y":13.5,"v":4.16},{"x":25.5,"y":13.5,"v":3.66},{"x":28.5,"y":13.5,"v":3.17},
{"x":1.5,"y":16.5,"v":6.5},{"x":4.5,"y":16.5,"v":6.4},{"x":7.5,"y":16.5,"v":6.2},{"x":10.5,"y":16.5,"v":5.8},{"x":13.5,"y":16.5,"v":5.2},{"x":16.5,"y":16.5,"v":4.6},{"x":19.5,"y":16.5,"v":4.1},{"x":22.5,"y":16.5,"v":3.6},{"x":25.5,"y":16.5,"v":3.1},{"x":28.5,"y":16.5,"v":2.7},
{"x":1.5,"y":19.5,"v":6.4},{"x":4.5,"y":19.5,"v":6.2},{"x":7.5,"y":19.5,"v":5.8},{"x":10.5,"y":19.5,"v":5.2},{"x":13.5,"y":19.5,"v":4.6},{"x":16.5,"y":19.5,"v":4.1},{"x":19.5,"y":19.5,"v":3.6},{"x":22.5,"y":19.5,"v":3.1},{"x":25.5,"y":19.5,"v":2.7},{"x":28.5,"y":19.5,"v":2.3},
{"x":1.5,"y":22.5,"v":6.2},{"x":4.5,"y":22.5,"v":5.8},{"x":7.5,"y":22.5,"v":5.2},{"x":10.5,"y":22.5,"v":4.6},{"x":13.5,"y":22.5,"v":4.1},{"x":16.5,"y":22.5,"v":3.6},{"x":19.5,"y":22.5,"v":3.1},{"x":22.5,"y":22.5,"v":2.7},{"x":25.5,"y":22.5,"v":2.3},{"x":28.5,"y":22.5,"v":1.9},
{"x":1.5,"y":25.5,"v":5.8},{"x":4.5,"y":25.5,"v":5.2},{"x":7.5,"y":25.5,"v":4.6},{"x":10.5,"y":25.5,"v":4.1},{"x":13.5,"y":25.5,"v":3.6},{"x":16.5,"y":25.5,"v":3.1},{"x":19.5,"y":25.5,"v":2.7},{"x":22.5,"y":25.5,"v":2.3},{"x":25.5,"y":25.5,"v":1.9},{"x":28.5,"y":25.5,"v":1.6},
{"x":1.5,"y":28.5,"v":5.2},{"x":4.5,"y":28.5,"v":4.6},{"x":7.5,"y":28.5,"v":4.1},{"x":10.5,"y":28.5,"v":3.6},{"x":13.5,"y":28.5,"v":3.1},{"x":16.5,"y":28.5,"v":2.7},{"x":19.5,"y":28.5,"v":2.3},{"x":22.5,"y":28.5,"v":1.9},{"x":25.5,"y":28.5,"v":1.6},{"x":28.5,"y":28.5,"v":1.3}],
"h3":[{"x":1.5,"y":1.5,"v":7.7},{"x":4.5,"y":1.5,"v":7.13},{"x":7.5,"y":1.5,"v":6.53},{"x":10.5,"y":1.5,"v":6},{"x":13.5,"y":1.5,"v":5.43},{"x":16.5,"y":1.5,"v":4.74},{"x":19.5,"y":1.5,"v":4.02},{"x":22.5,"y":1.5,"v":3.45},{"x":25.5,"y":1.5,"v":3.04},{"x":28.5,"y":1.5,"v":2.75},
{"x":1.5,"y":4.5,"v":7.59},{"x":4.5,"y":4.5,"v":7},{"x":7.5,"y":4.5,"v":6.4},{"x":10.5,"y":4.5,"v":5.89},{"x":13.5,"y":4.5,"v":5.3},{"x":16.5,"y":4.5,"v":4.58},{"x":19.5,"y":4.5,"v":3.87},{"x":22.5,"y":4.5,"v":3.34},{"x":25.5,"y":4.5,"v":2.96},{"x":28.5,"y":4.5,"v":2.69},
{"x":1.5,"y":7.5,"v":7.47},{"x":4.5,"y":7.5,"v":6.87},{"x":7.5,"y":7.5,"v":6.27},{"x":10.5,"y":7.5,"v":5.77},{"x":13.5,"y":7.5,"v":5.16},{"x":16.5,"y":7.5,"v":4.41},{"x":19.5,"y":7.5,"v":3.72},{"x":22.5,"y":7.5,"v":3.23},{"x":25.5,"y":7.5,"v":2.89},{"x":28.5,"y":7.5,"v":2.64},
{"x":1.5,"y":10.5,"v":7.34},{"x":4.5,"y":10.5,"v":6.74},{"x":7.5,"y":10.5,"v":6.17},{"x":10.5,"y":10.5,"v":5.64},{"x":13.5,"y":10.5,"v":5},{"x":16.5,"y":10.5,"v":4.26},{"x":19.5,"y":10.5,"v":3.62},{"x":22.5,"y":10.5,"v":3.16},{"x":25.5,"y":10.5,"v":2.83},{"x":28.5,"y":10.5,"v":2.6},
{"x":1.5,"y":13.5,"v":7.21},{"x":4.5,"y":13.5,"v":6.61},{"x":7.5,"y":13.5,"v":6.06},{"x":10.5,"y":13.5,"v":5.51},{"x":13.5,"y":13.5,"v":4.83},{"x":16.5,"y":13.5,"v":4.11},{"x":19.5,"y":13.5,"v":3.51},{"x":22.5,"y":13.5,"v":3.08},{"x":25.5,"y":13.5,"v":2.78},{"x":28.5,"y":13.5,"v":2.55},
{"x":1.5,"y":16.5,"v":7.07},{"x":4.5,"y":16.5,"v":6.47},{"x":7.5,"y":16.5,"v":5.95},{"x":10.5,"y":16.5,"v":5.37},{"x":13.5,"y":16.5,"v":4.67},{"x":16.5,"y":16.5,"v":3.95},{"x":19.5,"y":16.5,"v":3.4},{"x":22.5,"y":16.5,"v":3},{"x":25.5,"y":16.5,"v":2.72},{"x":28.5,"y":16.5,"v":2.51},
{"x":1.5,"y":19.5,"v":6.94},{"x":4.5,"y":19.5,"v":6.34},{"x":7.5,"y":19.5,"v":5.84},{"x":10.5,"y":19.5,"v":5.24},{"x":13.5,"y":19.5,"v":4.5},{"x":16.5,"y":19.5,"v":3.8},{"x":19.5,"y":19.5,"v":3.29},{"x":22.5,"y":19.5,"v":2.92},{"x":25.5,"y":19.5,"v":2.67},{"x":28.5,"y":19.5,"v":2.46},
{"x":1.5,"y":22.5,"v":6.81},{"x":4.5,"y":22.5,"v":6.22},{"x":7.5,"y":22.5,"v":5.71},{"x":10.5,"y":22.5,"v":5.09},{"x":13.5,"y":22.5,"v":4.35},{"x":16.5,"y":22.5,"v":3.68},{"x":19.5,"y":22.5,"v":3.2},{"x":22.5,"y":22.5,"v":2.86},{"x":25.5,"y":22.5,"v":2.62},{"x":28.5,"y":22.5,"v":2.42},
{"x":1.5,"y":25.5,"v":6.68},{"x":4.5,"y":25.5,"v":6.12},{"x":7.5,"y":25.5,"v":5.58},{"x":10.5,"y":25.5,"v":4.92},{"x":13.5,"y":25.5,"v":4.19},{"x":16.5,"y":25.5,"v":3.57},{"x":19.5,"y":25.5,"v":3.12},{"x":22.5,"y":25.5,"v":2.81},{"x":25.5,"y":25.5,"v":2.58},{"x":28.5,"y":25.5,"v":2.38},
{"x":1.5,"y":28.5,"v":6.55},{"x":4.5,"y":28.5,"v":6.01},{"x":7.5,"y":28.5,"v":5.45},{"x":10.5,"y":28.5,"v":4.76},{"x":13.5,"y":28.5,"v":4.04},{"x":16.5,"y":28.5,"v":3.46},{"x":19.5,"y":28.5,"v":3.04},{"x":22.5,"y":28.5,"v":2.75},{"x":25.5,"y":28.5,"v":2.53},{"x":28.5,"y":28.5,"v":2.33}],
"h4":[{"x":1.5,"y":1.5,"v":5.53},{"x":4.5,"y":1.5,"v":5.96},{"x":7.5,"y":1.5,"v":6.3},{"x":10.5,"y":1.5,"v":6.56},{"x":13.5,"y":1.5,"v":6.75},{"x":16.5,"y":1.5,"v":6.77},{"x":19.5,"y":1.5,"v":6.67},{"x":22.5,"y":1.5,"v":6.18},{"x":25.5,"y":1.5,"v":5.61},{"x":28.5,"y":1.5,"v":4.95},
{"x":1.5,"y":4.5,"v":5.68},{"x":4.5,"y":4.5,"v":6.08},{"x":7.5,"y":4.5,"v":6.39},{"x":10.5,"y":4.5,"v":6.64},{"x":13.5,"y":4.5,"v":6.79},{"x":16.5,"y":4.5,"v":6.75},{"x":19.5,"y":4.5,"v":6.51},{"x":22.5,"y":4.5,"v":6.03},{"x":25.5,"y":4.5,"v":5.43},{"x":28.5,"y":4.5,"v":4.74},
{"x":1.5,"y":7.5,"v":5.8},{"x":4.5,"y":7.5,"v":6.18},{"x":7.5,"y":7.5,"v":6.46},{"x":10.5,"y":7.5,"v":6.69},{"x":13.5,"y":7.5,"v":6.79},{"x":16.5,"y":7.5,"v":6.69},{"x":19.5,"y":7.5,"v":6.38},{"x":22.5,"y":7.5,"v":5.85},{"x":25.5,"y":7.5,"v":5.23},{"x":28.5,"y":7.5,"v":4.53},
{"x":1.5,"y":10.5,"v":5.92},{"x":4.5,"y":10.5,"v":6.27},{"x":7.5,"y":10.5,"v":6.54},{"x":10.5,"y":10.5,"v":6.73},{"x":13.5,"y":10.5,"v":6.77},{"x":16.5,"y":10.5,"v":6.61},{"x":19.5,"y":10.5,"v":6.23},{"x":22.5,"y":10.5,"v":5.67},{"x":25.5,"y":10.5,"v":5.02},{"x":28.5,"y":10.5,"v":4.32},
{"x":1.5,"y":13.5,"v":6.04},{"x":4.5,"y":13.5,"v":6.36},{"x":7.5,"y":13.5,"v":6.61},{"x":10.5,"y":13.5,"v":6.78},{"x":13.5,"y":13.5,"v":6.76},{"x":16.5,"y":13.5,"v":6.54},{"x":19.5,"y":13.5,"v":6.08},{"x":22.5,"y":13.5,"v":5.49},{"x":25.5,"y":13.5,"v":4.81},{"x":28.5,"y":13.5,"v":4.11},
{"x":1.5,"y":16.5,"v":6.15},{"x":4.5,"y":16.5,"v":6.44},{"x":7.5,"y":16.5,"v":6.67},{"x":10.5,"y":16.5,"v":6.79},{"x":13.5,"y":16.5,"v":6.71},{"x":16.5,"y":16.5,"v":6.43},{"x":19.5,"y":16.5,"v":5.91},{"x":22.5,"y":16.5,"v":5.3},{"x":25.5,"y":16.5,"v":4.6},{"x":28.5,"y":16.5,"v":3.91},
{"x":1.5,"y":19.5,"v":6.24},{"x":4.5,"y":19.5,"v":6.51},{"x":7.5,"y":19.5,"v":6.72},{"x":10.5,"y":19.5,"v":6.78},{"x":13.5,"y":19.5,"v":6.64},{"x":16.5,"y":19.5,"v":6.28},{"x":19.5,"y":19.5,"v":5.73},{"x":22.5,"y":19.5,"v":5.09},{"x":25.5,"y":19.5,"v":4.39},{"x":28.5,"y":19.5,"v":3.73},
{"x":1.5,"y":22.5,"v":6.33},{"x":4.5,"y":22.5,"v":6.59},{"x":7.5,"y":22.5,"v":6.76},{"x":10.5,"y":22.5,"v":6.76},{"x":13.5,"y":22.5,"v":6.56},{"x":16.5,"y":22.5,"v":6.13},{"x":19.5,"y":22.5,"v":5.55},{"x":22.5,"y":22.5,"v":4.88},{"x":25.5,"y":22.5,"v":4.18},{"x":28.5,"y":22.5,"v":3.55},
{"x":1.5,"y":25.5,"v":6.41},{"x":4.5,"y":25.5,"v":6.66},{"x":7.5,"y":25.5,"v":6.8},{"x":10.5,"y":25.5,"v":6.74},{"x":13.5,"y":25.5,"v":6.48},{"x":16.5,"y":25.5,"v":5.97},{"x":19.5,"y":25.5,"v":5.37},{"x":22.5,"y":25.5,"v":4.67},{"x":25.5,"y":25.5,"v":3.97},{"x":28.5,"y":25.5,"v":3.38},
{"x":1.5,"y":28.5,"v":6.49},{"x":4.5,"y":28.5,"v":6.7},{"x":7.5,"y":28.5,"v":6.78},{"x":10.5,"y":28.5,"v":6.66},{"x":13.5,"y":28.5,"v":6.33},{"x":16.5,"y":28.5,"v":5.79},{"x":19.5,"y":28.5,"v":5.16},{"x":22.5,"y":28.5,"v":4.46},{"x":25.5,"y":28.5,"v":3.79},{"x":28.5,"y":28.5,"v":3.23}]
},
"hconcat":[
{"concat":[
{"data":{"name":"a1"},"width":118,"height":73,"title":{"text":"AMPK Activation","frame":"group","font":"DejaVu Sans","fontSize":12.5,"fontWeight":"bold","offset":19,"dx":-6.5},"mark":{"type":"line","interpolate":"monotone","strokeWidth":1.3,"clip":true},
"encoding":{"x":{"field":"t","type":"quantitative","scale":{"domain":[-1,23],"nice":false},"axis":{"values":[0,3,6,9,12,15,18,21],"title":"Time [days]","titleFontSize":7.5,"titlePadding":1}},
"y":{"field":"v","type":"quantitative","scale":{"domain":[-2.3,53.3],"nice":false,"zero":false},"axis":{"values":[0,10,20,30,40,50],"title":["Relative level [AU]","AMPK  pT172"],"titlePadding":2,"titleLineHeight":19}},
"stroke":{"field":"lv","type":"nominal","scale":{"domain":[67,50,33,17,0,150,133,117,100,83],"range":["#9b4fd4","#8a44c4","#7a3fb0","#5e3a8c","#000000","#e39aec","#da8ee9","#cf80e6","#c272e2","#b062dc"]},"legend":{"orient":"none","legendX":453,"legendY":267,"columns":2,"title":["Over-expression","Levels:"],"titleOrient":"left","titleAnchor":"start","titleFont":"DejaVu Sans","titleFontSize":10.5,"titleFontWeight":"normal","titleColor":"#222","titleLineHeight":13,"titlePadding":12,"symbolType":"stroke","symbolSize":121,"symbolStrokeWidth":1.5,"labelExpr":"datum.label + ' %'","labelFont":"Liberation Sans","labelFontWeight":"bold","labelFontSize":7,"labelColor":"#000","rowPadding":-9,"columnPadding":14,"labelOffset":4}},
"strokeDash":{"field":"lv","type":"nominal","scale":{"domain":[67,50,33,17,0,150,133,117,100,83],"range":[[1,0],[5,2,1.5,2],[2,2],[5,3],[1,0],[1,0],[7,2,1.5,2],[5,2,1.5,2],[2,2],[5,3]]},"legend":{"orient":"none","legendX":453,"legendY":267,"columns":2,"title":["Over-expression","Levels:"],"titleOrient":"left","titleAnchor":"start","titleFont":"DejaVu Sans","titleFontSize":10.5,"titleFontWeight":"normal","titleColor":"#222","titleLineHeight":13,"titlePadding":12,"symbolType":"stroke","symbolSize":121,"symbolStrokeWidth":1.5,"labelExpr":"datum.label + ' %'","labelFont":"Liberation Sans","labelFontWeight":"bold","labelFontSize":7,"labelColor":"#000","rowPadding":-9,"columnPadding":14,"labelOffset":4}}}},
{"data":{"name":"b1"},"width":118,"height":73,"title":{"text":"FoxO3a Activation","frame":"group","font":"DejaVu Sans","fontSize":12.5,"fontWeight":"bold","offset":19,"dx":-9.5},"mark":{"type":"line","interpolate":"monotone","strokeWidth":1.3,"clip":true},
"encoding":{"x":{"field":"t","type":"quantitative","scale":{"domain":[-1,23],"nice":false},"axis":{"values":[0,3,6,9,12,15,18,21],"title":"Time [days]","titleFontSize":7.5,"titlePadding":1}},
"y":{"field":"v","type":"quantitative","scale":{"domain":[-2.5,63.9],"nice":false,"zero":false},"axis":{"values":[0,10,20,30,40,50,60],"title":"FoxO3a  total"}},
"stroke":{"field":"lv","type":"nominal","scale":{"domain":[67,50,33,17,0,150,133,117,100,83],"range":["#9b4fd4","#8a44c4","#7a3fb0","#5e3a8c","#000000","#e39aec","#da8ee9","#cf80e6","#c272e2","#b062dc"]}},
"strokeDash":{"field":"lv","type":"nominal","scale":{"domain":[67,50,33,17,0,150,133,117,100,83],"range":[[1,0],[5,2,1.5,2],[2,2],[5,3],[1,0],[1,0],[7,2,1.5,2],[5,2,1.5,2],[2,2],[5,3]]}}}},
{"data":{"name":"c1"},"width":118,"height":73,"title":{"text":"Mitophagy Activation","frame":"group","font":"DejaVu Sans","fontSize":12.5,"fontWeight":"bold","offset":19,"dx":-9},"mark":{"type":"line","interpolate":"monotone","strokeWidth":1.3,"clip":true},
"encoding":{"x":{"field":"t","type":"quantitative","scale":{"domain":[-1,23],"nice":false},"axis":{"values":[0,3,6,9,12,15,18,21],"title":"Time [days]","titleFontSize":7.5,"titlePadding":1}},
"y":{"field":"v","type":"quantitative","scale":{"domain":[-0.9,32],"nice":false,"zero":false},"axis":{"values":[0,5,10,15,20,25,30],"title":"Mitophagy"}},
"stroke":{"field":"lv","type":"nominal","scale":{"domain":[67,50,33,17,0,150,133,117,100,83],"range":["#9b4fd4","#8a44c4","#7a3fb0","#5e3a8c","#000000","#e39aec","#da8ee9","#cf80e6","#c272e2","#b062dc"]}},
"strokeDash":{"field":"lv","type":"nominal","scale":{"domain":[67,50,33,17,0,150,133,117,100,83],"range":[[1,0],[5,2,1.5,2],[2,2],[5,3],[1,0],[1,0],[7,2,1.5,2],[5,2,1.5,2],[2,2],[5,3]]}}}},
{"data":{"name":"a2"},"width":118,"height":77,"mark":{"type":"line","interpolate":"monotone","strokeWidth":1.3,"clip":true},
"encoding":{"x":{"field":"t","type":"quantitative","scale":{"domain":[-1,23],"nice":false},"axis":{"values":[0,3,6,9,12,15,18,21],"labels":false,"title":null}},
"y":{"field":"v","type":"quantitative","scale":{"domain":[-0.9,15.2],"nice":false,"zero":false},"axis":{"values":[0,5,10,15],"title":"mTORC1  pS2448"}},
"stroke":{"field":"lv","type":"nominal","scale":{"domain":[67,50,33,17,0,150,133,117,100,83],"range":["#9b4fd4","#8a44c4","#7a3fb0","#5e3a8c","#000000","#e39aec","#da8ee9","#cf80e6","#c272e2","#b062dc"]}},
"strokeDash":{"field":"lv","type":"nominal","scale":{"domain":[67,50,33,17,0,150,133,117,100,83],"range":[[1,0],[5,2,1.5,2],[2,2],[5,3],[1,0],[1,0],[7,2,1.5,2],[5,2,1.5,2],[2,2],[5,3]]}}}},
{"data":{"name":"b2"},"width":118,"height":77,"mark":{"type":"line","interpolate":"monotone","strokeWidth":1.3,"clip":true},
"encoding":{"x":{"field":"t","type":"quantitative","scale":{"domain":[-1,23],"nice":false},"axis":{"values":[0,3,6,9,12,15,18,21],"labels":false,"title":null}},
"y":{"field":"v","type":"quantitative","scale":{"domain":[-0.9,15.2],"nice":false,"zero":false},"axis":{"values":[0,5,10,15],"title":"mTORC1  pS2448"}},
"stroke":{"field":"lv","type":"nominal","scale":{"domain":[67,50,33,17,0,150,133,117,100,83],"range":["#9b4fd4","#8a44c4","#7a3fb0","#5e3a8c","#000000","#e39aec","#da8ee9","#cf80e6","#c272e2","#b062dc"]}},
"strokeDash":{"field":"lv","type":"nominal","scale":{"domain":[67,50,33,17,0,150,133,117,100,83],"range":[[1,0],[5,2,1.5,2],[2,2],[5,3],[1,0],[1,0],[7,2,1.5,2],[5,2,1.5,2],[2,2],[5,3]]}}}},
{"data":{"name":"c2"},"width":118,"height":77,"mark":{"type":"line","interpolate":"monotone","strokeWidth":1.3,"clip":true},
"encoding":{"x":{"field":"t","type":"quantitative","scale":{"domain":[-1,23],"nice":false},"axis":{"values":[0,3,6,9,12,15,18,21],"labels":false,"title":null}},
"y":{"field":"v","type":"quantitative","scale":{"domain":[-0.9,15.2],"nice":false,"zero":false},"axis":{"values":[0,5,10,15],"title":"mTORC1  pS2448"}},
"stroke":{"field":"lv","type":"nominal","scale":{"domain":[67,50,33,17,0,150,133,117,100,83],"range":["#9b4fd4","#8a44c4","#7a3fb0","#5e3a8c","#000000","#e39aec","#da8ee9","#cf80e6","#c272e2","#b062dc"]}},
"strokeDash":{"field":"lv","type":"nominal","scale":{"domain":[67,50,33,17,0,150,133,117,100,83],"range":[[1,0],[5,2,1.5,2],[2,2],[5,3],[1,0],[1,0],[7,2,1.5,2],[5,2,1.5,2],[2,2],[5,3]]}}}},
{"data":{"name":"a3"},"width":118,"height":77,"mark":{"type":"line","interpolate":"monotone","strokeWidth":1.3,"clip":true},
"encoding":{"x":{"field":"t","type":"quantitative","scale":{"domain":[-1,23],"nice":false},"axis":{"values":[0,3,6,9,12,15,18,21],"labels":false,"title":null}},
"y":{"field":"v","type":"quantitative","scale":{"domain":[-10,155.8],"nice":false,"zero":false},"axis":{"values":[0,50,100,150],"title":"Mitophagy"}},
"stroke":{"field":"lv","type":"nominal","scale":{"domain":[67,50,33,17,0,150,133,117,100,83],"range":["#9b4fd4","#8a44c4","#7a3fb0","#5e3a8c","#000000","#e39aec","#da8ee9","#cf80e6","#c272e2","#b062dc"]}},
"strokeDash":{"field":"lv","type":"nominal","scale":{"domain":[67,50,33,17,0,150,133,117,100,83],"range":[[1,0],[5,2,1.5,2],[2,2],[5,3],[1,0],[1,0],[7,2,1.5,2],[5,2,1.5,2],[2,2],[5,3]]}}}},
{"data":{"name":"b3"},"width":118,"height":77,"mark":{"type":"line","interpolate":"monotone","strokeWidth":1.3,"clip":true},
"encoding":{"x":{"field":"t","type":"quantitative","scale":{"domain":[-1,23],"nice":false},"axis":{"values":[0,3,6,9,12,15,18,21],"labels":false,"title":null}},
"y":{"field":"v","type":"quantitative","scale":{"domain":[-8.2,117.5],"nice":false,"zero":false},"axis":{"values":[0,20,40,60,80,100],"title":"Mitophagy"}},
"stroke":{"field":"lv","type":"nominal","scale":{"domain":[67,50,33,17,0,150,133,117,100,83],"range":["#9b4fd4","#8a44c4","#7a3fb0","#5e3a8c","#000000","#e39aec","#da8ee9","#cf80e6","#c272e2","#b062dc"]}},
"strokeDash":{"field":"lv","type":"nominal","scale":{"domain":[67,50,33,17,0,150,133,117,100,83],"range":[[1,0],[5,2,1.5,2],[2,2],[5,3],[1,0],[1,0],[7,2,1.5,2],[5,2,1.5,2],[2,2],[5,3]]}}}},
{"data":{"name":"c3"},"width":118,"height":77,"mark":{"type":"line","interpolate":"monotone","strokeWidth":1.3,"clip":true},
"encoding":{"x":{"field":"t","type":"quantitative","scale":{"domain":[-1,23],"nice":false},"axis":{"values":[0,3,6,9,12,15,18,21],"labels":false,"title":null}},
"y":{"field":"v","type":"quantitative","scale":{"domain":[-0.8,14.3],"nice":false,"zero":false},"axis":{"values":[0,2,4,6,8,10,12],"title":"AMPK  pT172"}},
"stroke":{"field":"lv","type":"nominal","scale":{"domain":[67,50,33,17,0,150,133,117,100,83],"range":["#9b4fd4","#8a44c4","#7a3fb0","#5e3a8c","#000000","#e39aec","#da8ee9","#cf80e6","#c272e2","#b062dc"]}},
"strokeDash":{"field":"lv","type":"nominal","scale":{"domain":[67,50,33,17,0,150,133,117,100,83],"range":[[1,0],[5,2,1.5,2],[2,2],[5,3],[1,0],[1,0],[7,2,1.5,2],[5,2,1.5,2],[2,2],[5,3]]}}}},
{"data":{"name":"a4"},"width":118,"height":77,"mark":{"type":"line","interpolate":"monotone","strokeWidth":1.3,"clip":true},
"encoding":{"x":{"field":"t","type":"quantitative","scale":{"domain":[-1,23],"nice":false},"axis":{"values":[0,3,6,9,12,15,18,21],"labels":false,"title":null}},
"y":{"field":"v","type":"quantitative","scale":{"domain":[-0.73,12.1],"nice":false,"zero":false},"axis":{"values":[0,2,4,6,8,10,12],"title":["Mitochondrial","Mass"]}},
"stroke":{"field":"lv","type":"nominal","scale":{"domain":[67,50,33,17,0,150,133,117,100,83],"range":["#9b4fd4","#8a44c4","#7a3fb0","#5e3a8c","#000000","#e39aec","#da8ee9","#cf80e6","#c272e2","#b062dc"]}},
"strokeDash":{"field":"lv","type":"nominal","scale":{"domain":[67,50,33,17,0,150,133,117,100,83],"range":[[1,0],[5,2,1.5,2],[2,2],[5,3],[1,0],[1,0],[7,2,1.5,2],[5,2,1.5,2],[2,2],[5,3]]}}}},
{"data":{"name":"b4"},"width":118,"height":77,"mark":{"type":"line","interpolate":"monotone","strokeWidth":1.3,"clip":true},
"encoding":{"x":{"field":"t","type":"quantitative","scale":{"domain":[-1,23],"nice":false},"axis":{"values":[0,3,6,9,12,15,18,21],"labels":false,"title":null}},
"y":{"field":"v","type":"quantitative","scale":{"domain":[-0.73,12.1],"nice":false,"zero":false},"axis":{"values":[0,2,4,6,8,10,12],"title":["Mitochondrial","Mass"]}},
"stroke":{"field":"lv","type":"nominal","scale":{"domain":[67,50,33,17,0,150,133,117,100,83],"range":["#9b4fd4","#8a44c4","#7a3fb0","#5e3a8c","#000000","#e39aec","#da8ee9","#cf80e6","#c272e2","#b062dc"]}},
"strokeDash":{"field":"lv","type":"nominal","scale":{"domain":[67,50,33,17,0,150,133,117,100,83],"range":[[1,0],[5,2,1.5,2],[2,2],[5,3],[1,0],[1,0],[7,2,1.5,2],[5,2,1.5,2],[2,2],[5,3]]}}}},
{"data":{"name":"c4"},"width":118,"height":77,"mark":{"type":"line","interpolate":"monotone","strokeWidth":1.3,"clip":true},
"encoding":{"x":{"field":"t","type":"quantitative","scale":{"domain":[-1,23],"nice":false},"axis":{"values":[0,3,6,9,12,15,18,21],"labels":false,"title":null}},
"y":{"field":"v","type":"quantitative","scale":{"domain":[-0.73,12.1],"nice":false,"zero":false},"axis":{"values":[0,2,4,6,8,10,12],"title":["Mitochondrial","Mass"]}},
"stroke":{"field":"lv","type":"nominal","scale":{"domain":[67,50,33,17,0,150,133,117,100,83],"range":["#9b4fd4","#8a44c4","#7a3fb0","#5e3a8c","#000000","#e39aec","#da8ee9","#cf80e6","#c272e2","#b062dc"]}},
"strokeDash":{"field":"lv","type":"nominal","scale":{"domain":[67,50,33,17,0,150,133,117,100,83],"range":[[1,0],[5,2,1.5,2],[2,2],[5,3],[1,0],[1,0],[7,2,1.5,2],[5,2,1.5,2],[2,2],[5,3]]}}}},
{"data":{"name":"a5"},"width":118,"height":78,"mark":{"type":"line","interpolate":"monotone","strokeWidth":1.3,"clip":true},
"encoding":{"x":{"field":"t","type":"quantitative","scale":{"domain":[-1,23],"nice":false},"axis":{"values":[0,3,6,9,12,15,18,21],"labels":false,"title":null}},
"y":{"field":"v","type":"quantitative","scale":{"domain":[-0.4,18.2],"nice":false,"zero":false},"axis":{"values":[0,5,10,15],"title":["Mitochondrial","Membrane Potential"]}},
"stroke":{"field":"lv","type":"nominal","scale":{"domain":[67,50,33,17,0,150,133,117,100,83],"range":["#9b4fd4","#8a44c4","#7a3fb0","#5e3a8c","#000000","#e39aec","#da8ee9","#cf80e6","#c272e2","#b062dc"]}},
"strokeDash":{"field":"lv","type":"nominal","scale":{"domain":[67,50,33,17,0,150,133,117,100,83],"range":[[1,0],[5,2,1.5,2],[2,2],[5,3],[1,0],[1,0],[7,2,1.5,2],[5,2,1.5,2],[2,2],[5,3]]}}}},
{"data":{"name":"b5"},"width":118,"height":78,"mark":{"type":"line","interpolate":"monotone","strokeWidth":1.3,"clip":true},
"encoding":{"x":{"field":"t","type":"quantitative","scale":{"domain":[-1,23],"nice":false},"axis":{"values":[0,3,6,9,12,15,18,21],"labels":false,"title":null}},
"y":{"field":"v","type":"quantitative","scale":{"domain":[-0.4,18.2],"nice":false,"zero":false},"axis":{"values":[0,5,10,15],"title":["Mitochondrial","Membrane Potential"]}},
"stroke":{"field":"lv","type":"nominal","scale":{"domain":[67,50,33,17,0,150,133,117,100,83],"range":["#9b4fd4","#8a44c4","#7a3fb0","#5e3a8c","#000000","#e39aec","#da8ee9","#cf80e6","#c272e2","#b062dc"]}},
"strokeDash":{"field":"lv","type":"nominal","scale":{"domain":[67,50,33,17,0,150,133,117,100,83],"range":[[1,0],[5,2,1.5,2],[2,2],[5,3],[1,0],[1,0],[7,2,1.5,2],[5,2,1.5,2],[2,2],[5,3]]}}}},
{"data":{"name":"c5"},"width":118,"height":78,"mark":{"type":"line","interpolate":"monotone","strokeWidth":1.3,"clip":true},
"encoding":{"x":{"field":"t","type":"quantitative","scale":{"domain":[-1,23],"nice":false},"axis":{"values":[0,3,6,9,12,15,18,21],"labels":false,"title":null}},
"y":{"field":"v","type":"quantitative","scale":{"domain":[-0.4,18.2],"nice":false,"zero":false},"axis":{"values":[0,5,10,15],"title":["Mitochondrial","Membrane Potential"]}},
"stroke":{"field":"lv","type":"nominal","scale":{"domain":[67,50,33,17,0,150,133,117,100,83],"range":["#9b4fd4","#8a44c4","#7a3fb0","#5e3a8c","#000000","#e39aec","#da8ee9","#cf80e6","#c272e2","#b062dc"]}},
"strokeDash":{"field":"lv","type":"nominal","scale":{"domain":[67,50,33,17,0,150,133,117,100,83],"range":[[1,0],[5,2,1.5,2],[2,2],[5,3],[1,0],[1,0],[7,2,1.5,2],[5,2,1.5,2],[2,2],[5,3]]}}}},
{"data":{"name":"a6"},"width":118,"height":80,"mark":{"type":"line","interpolate":"monotone","strokeWidth":1.3,"clip":true},
"encoding":{"x":{"field":"t","type":"quantitative","scale":{"domain":[-1,23],"nice":false},"axis":{"values":[0,3,6,9,12,15,18,21],"labels":false,"title":null}},
"y":{"field":"v","type":"quantitative","scale":{"domain":[-1.5,30.5],"nice":false,"zero":false},"axis":{"values":[0,5,10,15,20,25,30],"title":"ROS"}},
"stroke":{"field":"lv","type":"nominal","scale":{"domain":[67,50,33,17,0,150,133,117,100,83],"range":["#9b4fd4","#8a44c4","#7a3fb0","#5e3a8c","#000000","#e39aec","#da8ee9","#cf80e6","#c272e2","#b062dc"]}},
"strokeDash":{"field":"lv","type":"nominal","scale":{"domain":[67,50,33,17,0,150,133,117,100,83],"range":[[1,0],[5,2,1.5,2],[2,2],[5,3],[1,0],[1,0],[7,2,1.5,2],[5,2,1.5,2],[2,2],[5,3]]}}}},
{"data":{"name":"b6"},"width":118,"height":80,"mark":{"type":"line","interpolate":"monotone","strokeWidth":1.3,"clip":true},
"encoding":{"x":{"field":"t","type":"quantitative","scale":{"domain":[-1,23],"nice":false},"axis":{"values":[0,3,6,9,12,15,18,21],"labels":false,"title":null}},
"y":{"field":"v","type":"quantitative","scale":{"domain":[-1.5,30.5],"nice":false,"zero":false},"axis":{"values":[0,5,10,15,20,25,30],"title":"ROS"}},
"stroke":{"field":"lv","type":"nominal","scale":{"domain":[67,50,33,17,0,150,133,117,100,83],"range":["#9b4fd4","#8a44c4","#7a3fb0","#5e3a8c","#000000","#e39aec","#da8ee9","#cf80e6","#c272e2","#b062dc"]}},
"strokeDash":{"field":"lv","type":"nominal","scale":{"domain":[67,50,33,17,0,150,133,117,100,83],"range":[[1,0],[5,2,1.5,2],[2,2],[5,3],[1,0],[1,0],[7,2,1.5,2],[5,2,1.5,2],[2,2],[5,3]]}}}},
{"data":{"name":"c6"},"width":118,"height":80,"mark":{"type":"line","interpolate":"monotone","strokeWidth":1.3,"clip":true},
"encoding":{"x":{"field":"t","type":"quantitative","scale":{"domain":[-1,23],"nice":false},"axis":{"values":[0,3,6,9,12,15,18,21],"labels":false,"title":null}},
"y":{"field":"v","type":"quantitative","scale":{"domain":[-1.5,30.5],"nice":false,"zero":false},"axis":{"values":[0,5,10,15,20,25,30],"title":"ROS"}},
"stroke":{"field":"lv","type":"nominal","scale":{"domain":[67,50,33,17,0,150,133,117,100,83],"range":["#9b4fd4","#8a44c4","#7a3fb0","#5e3a8c","#000000","#e39aec","#da8ee9","#cf80e6","#c272e2","#b062dc"]}},
"strokeDash":{"field":"lv","type":"nominal","scale":{"domain":[67,50,33,17,0,150,133,117,100,83],"range":[[1,0],[5,2,1.5,2],[2,2],[5,3],[1,0],[1,0],[7,2,1.5,2],[5,2,1.5,2],[2,2],[5,3]]}}}}
],"columns":3,"spacing":{"row":33,"column":33},"bounds":"flush","align":"each","resolve":{"scale":{"stroke":"shared","strokeDash":"shared"}}},
{"title":{"text":"B","anchor":"start","frame":"bounds","font":"Liberation Sans","fontSize":14,"fontWeight":"bold","offset":-1,"dx":-2},
"concat":[
{"data":{"name":"h1"},"width":84,"height":73,"title":{"text":["Total Mitochondrial","Mass"],"anchor":"start","frame":"group","font":"Liberation Sans","fontSize":10,"fontWeight":"bold","offset":-15,"lineHeight":12,"baseline":"bottom"},
"mark":{"type":"square","size":81,"opacity":1,"clip":true,"strokeWidth":0},
"encoding":{"x":{"field":"x","type":"quantitative","scale":{"domain":[0,30],"nice":false},"axis":{"values":[0,10,20,30],"title":["AMPK","activation (%)"],"titleAnchor":"start","titleAlign":"left","labelFontSize":9.5,"titleFontSize":10,"titlePadding":4,"titleLineHeight":12}},
"y":{"field":"y","type":"quantitative","scale":{"domain":[0,30],"nice":false},"axis":{"values":[0,10,20,30],"title":["FoxO3a","activation (%)"],"labelFontSize":9.5,"titleFontSize":10,"titlePadding":3,"titleLineHeight":10}},
"fill":{"field":"v","type":"quantitative","scale":{"domain":[1.4,2.23,3.89,5.56,7.22,8.05],"range":["#00008f","#0000ff","#00ffff","#ffff00","#ff0000","#800000"],"interpolate":"rgb"},"legend":{"values":[2,4,6,8],"title":null,"orient":"right","offset":6,"gradientLength":72,"gradientThickness":6,"labelFont":"Liberation Sans","labelFontWeight":"bold","labelFontSize":10.5,"labelColor":"#000","labelOffset":2,"gradientStrokeWidth":0,"padding":0}}}},
{"data":{"name":"h2"},"width":84,"height":73,"title":{"text":["Total Mitochondrial","Membrane Potential"],"anchor":"start","frame":"group","font":"Liberation Sans","fontSize":10,"fontWeight":"bold","offset":-10,"lineHeight":12,"baseline":"bottom"},
"mark":{"type":"square","size":81,"opacity":1,"clip":true,"strokeWidth":0},
"encoding":{"x":{"field":"x","type":"quantitative","scale":{"domain":[0,30],"nice":false},"axis":{"values":[0,10,20,30],"labels":false,"title":null}},
"y":{"field":"y","type":"quantitative","scale":{"domain":[0,30],"nice":false},"axis":{"values":[0,10,20,30],"labels":false,"title":null}},
"fill":{"field":"v","type":"quantitative","scale":{"domain":[0.35,1.19,2.86,4.54,6.21,7.05],"range":["#00008f","#0000ff","#00ffff","#ffff00","#ff0000","#800000"],"interpolate":"rgb"},"legend":{"values":[1,3,5,7],"title":null,"orient":"right","offset":5,"gradientLength":72,"gradientThickness":6,"labelFont":"Liberation Sans","labelFontWeight":"bold","labelFontSize":10.5,"labelColor":"#000","labelOffset":2,"gradientStrokeWidth":0,"padding":0}}}},
{"data":{"name":"h3"},"width":84,"height":73,
"mark":{"type":"square","size":81,"opacity":1,"clip":true,"strokeWidth":0},
"encoding":{"x":{"field":"x","type":"quantitative","scale":{"domain":[0,30],"nice":false},"axis":{"values":[0,10,20,30],"title":["AMPK","activation (%)"],"titleAnchor":"start","titleAlign":"left","labelFontSize":9.5,"titleFontSize":10,"titlePadding":4,"titleLineHeight":12}},
"y":{"field":"y","type":"quantitative","scale":{"domain":[0,30],"nice":false},"axis":{"values":[0,10,20,30],"title":["Mitophagy","activation (%)"],"labelFontSize":9.5,"titleFontSize":10,"titlePadding":3,"titleLineHeight":10}},
"fill":{"field":"v","type":"quantitative","scale":{"domain":[1.4,2.23,3.89,5.56,7.22,8.05],"range":["#00008f","#0000ff","#00ffff","#ffff00","#ff0000","#800000"],"interpolate":"rgb"},"legend":null}}},
{"data":{"name":"h4"},"width":84,"height":73,"title":{"text":"Day 15","orient":"bottom","anchor":"end","frame":"group","font":"DejaVu Sans","fontSize":13,"fontWeight":"normal","offset":40,"dx":-8},
"mark":{"type":"square","size":81,"opacity":1,"clip":true,"strokeWidth":0},
"encoding":{"x":{"field":"x","type":"quantitative","scale":{"domain":[0,30],"nice":false},"axis":{"values":[0,10,20,30],"labels":false,"title":null}},
"y":{"field":"y","type":"quantitative","scale":{"domain":[0,30],"nice":false},"axis":{"values":[0,10,20,30],"labels":false,"title":null}},
"fill":{"field":"v","type":"quantitative","scale":{"domain":[0.35,1.19,2.86,4.54,6.21,7.05],"range":["#00008f","#0000ff","#00ffff","#ffff00","#ff0000","#800000"],"interpolate":"rgb"},"legend":null}}}
],"columns":2,"spacing":{"row":53,"column":31},"bounds":"flush","align":"all","resolve":{"scale":{"fill":"independent"},"legend":{"fill":"independent"}}}
],
"spacing":477,"bounds":"flush","resolve":{"scale":{"fill":"independent"},"legend":{"fill":"independent"}}
}
